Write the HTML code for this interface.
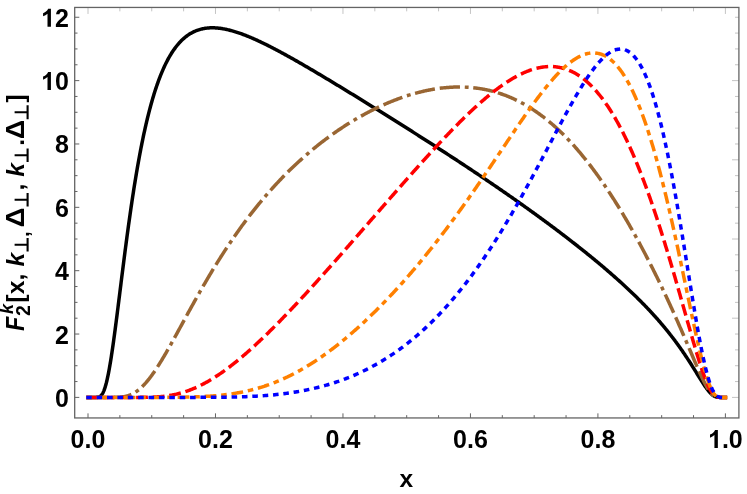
<!DOCTYPE html>
<html><head><meta charset="utf-8"><title>plot</title>
<style>
html,body{margin:0;padding:0;background:#fff;}
body{width:747px;height:494px;overflow:hidden;}
svg{display:block;will-change:transform;}
text{font-family:"Liberation Sans",sans-serif;font-weight:bold;fill:#000;}
</style></head><body>
<svg width="747" height="494" viewBox="0 0 747 494">
<rect x="0" y="0" width="747" height="494" fill="#fff"/>
<path d="M88.00,397.40 88.32,397.40 88.64,397.40 88.80,397.40 88.96,397.40 89.27,397.40 89.59,397.40 89.91,397.40 90.23,397.40 90.39,397.40 90.55,397.40 90.87,397.40 91.19,397.40 91.51,397.40 91.82,397.40 91.98,397.40 92.14,397.40 92.46,397.40 92.78,397.40 93.10,397.40 93.42,397.40 93.58,397.40 93.74,397.40 94.06,397.40 94.37,397.40 94.69,397.40 95.01,397.40 95.17,397.40 95.33,397.40 95.65,397.39 95.97,397.39 96.29,397.38 96.60,397.36 96.76,397.36 96.92,397.35 97.24,397.32 97.56,397.29 97.88,397.24 98.20,397.18 98.36,397.15 98.52,397.11 98.84,397.01 99.15,396.89 99.47,396.75 99.79,396.59 99.95,396.49 100.11,396.39 100.43,396.15 100.75,395.88 101.07,395.58 101.39,395.22 101.54,395.03 101.70,394.83 102.02,394.38 102.34,393.89 102.66,393.35 102.98,392.75 103.14,392.43 103.30,392.09 103.62,391.38 103.94,390.61 104.25,389.78 104.57,388.90 104.73,388.43 104.89,387.95 105.21,386.94 105.53,385.87 105.85,384.74 106.17,383.55 106.33,382.93 106.48,382.29 106.80,380.98 107.12,379.61 107.44,378.18 107.76,376.69 107.92,375.93 108.08,375.15 108.40,373.55 108.72,371.90 109.03,370.19 109.35,368.44 109.51,367.54 109.67,366.63 109.99,364.78 110.31,362.88 110.63,360.93 110.95,358.94 111.11,357.93 111.27,356.91 111.58,354.84 111.90,352.73 112.22,350.58 112.54,348.40 112.70,347.30 112.86,346.19 113.18,343.95 113.50,341.67 113.81,339.37 114.13,337.04 114.29,335.87 114.45,334.69 114.77,332.31 115.09,329.92 115.41,327.50 115.73,325.06 115.89,323.84 116.05,322.61 116.36,320.14 116.68,317.66 117.00,315.17 117.32,312.66 117.48,311.40 117.64,310.14 117.96,307.62 118.28,305.09 118.60,302.55 118.91,300.01 119.07,298.73 119.23,297.46 119.55,294.91 119.87,292.36 120.19,289.81 120.51,287.26 120.67,285.98 120.83,284.71 121.14,282.16 121.46,279.61 121.78,277.07 122.10,274.54 122.26,273.27 122.42,272.00 122.74,269.48 123.06,266.96 123.38,264.45 123.69,261.95 123.85,260.70 124.01,259.46 124.33,256.97 124.65,254.50 124.97,252.04 125.29,249.58 125.45,248.36 125.61,247.14 125.93,244.72 126.24,242.30 126.56,239.90 126.88,237.51 127.04,236.32 127.20,235.13 127.52,232.77 127.84,230.42 128.16,228.09 128.47,225.77 128.63,224.62 128.79,223.47 129.11,221.18 129.43,218.91 129.75,216.65 130.07,214.41 130.23,213.30 130.39,212.19 130.71,209.98 131.02,207.79 131.34,205.62 131.66,203.46 131.82,202.39 131.98,201.32 132.30,199.20 132.62,197.10 132.94,195.01 133.26,192.94 133.41,191.91 133.57,190.89 133.89,188.85 134.21,186.84 134.53,184.84 134.85,182.86 135.01,181.87 135.17,180.89 135.49,178.95 135.81,177.02 136.12,175.11 136.44,173.21 136.60,172.27 136.76,171.34 137.08,169.48 137.40,167.64 137.72,165.82 138.04,164.01 138.20,163.12 138.35,162.23 138.67,160.46 138.99,158.70 139.31,156.97 139.63,155.25 139.79,154.40 139.95,153.55 140.27,151.87 140.59,150.20 140.90,148.55 141.22,146.92 141.38,146.11 141.54,145.30 141.86,143.70 142.18,142.12 142.50,140.56 142.82,139.01 142.98,138.24 143.14,137.48 143.45,135.96 143.77,134.46 144.09,132.98 144.41,131.51 144.57,130.78 144.73,130.05 145.05,128.62 145.37,127.20 145.68,125.79 146.00,124.40 146.16,123.71 146.32,123.03 146.64,121.67 146.96,120.33 147.28,119.00 147.60,117.68 147.76,117.03 147.92,116.38 148.23,115.10 148.55,113.83 148.87,112.57 149.19,111.33 149.35,110.72 149.51,110.10 149.83,108.89 150.15,107.69 150.47,106.51 150.78,105.33 150.94,104.75 151.10,104.18 151.42,103.03 151.74,101.90 152.06,100.78 152.38,99.68 152.54,99.13 152.70,98.58 153.01,97.51 153.33,96.44 153.65,95.39 153.97,94.34 154.13,93.83 154.29,93.32 154.61,92.30 154.93,91.30 155.25,90.30 155.56,89.32 155.72,88.84 155.88,88.36 156.20,87.40 156.52,86.45 156.84,85.52 157.16,84.60 157.32,84.14 157.48,83.69 157.80,82.79 158.11,81.90 158.43,81.02 158.75,80.16 158.91,79.73 159.07,79.30 159.39,78.46 159.71,77.62 160.03,76.80 160.34,75.98 160.50,75.58 160.66,75.18 160.98,74.39 161.30,73.60 161.62,72.83 161.94,72.07 162.10,71.69 162.26,71.31 162.58,70.57 162.89,69.84 163.21,69.11 163.53,68.39 163.69,68.04 163.85,67.69 164.17,66.99 164.49,66.30 165.28,64.62 166.08,63.00 166.88,61.42 167.68,59.90 168.47,58.43 169.27,57.01 170.07,55.64 170.86,54.31 171.66,53.03 172.46,51.80 173.25,50.60 174.05,49.45 174.85,48.35 175.64,47.28 176.44,46.25 177.24,45.26 178.03,44.30 178.83,43.38 179.63,42.50 180.42,41.65 181.22,40.84 182.02,40.05 182.81,39.30 183.61,38.58 184.41,37.89 185.20,37.23 186.00,36.60 186.80,35.99 187.59,35.42 188.39,34.86 189.19,34.34 189.98,33.84 190.78,33.36 191.58,32.91 192.37,32.48 193.17,32.07 193.97,31.69 194.76,31.33 195.56,30.99 196.36,30.66 197.15,30.36 197.95,30.08 198.75,29.82 199.55,29.57 200.34,29.34 201.14,29.13 201.94,28.94 202.73,28.77 203.53,28.61 204.33,28.46 205.12,28.33 205.92,28.22 206.72,28.12 207.51,28.03 208.31,27.96 209.11,27.91 209.90,27.86 210.70,27.83 211.50,27.81 212.29,27.81 213.09,27.81 213.89,27.83 214.68,27.86 215.48,27.90 216.28,27.95 217.07,28.01 217.87,28.08 218.67,28.16 219.46,28.25 220.26,28.35 221.06,28.46 221.85,28.58 222.65,28.71 223.45,28.85 224.24,28.99 225.04,29.14 225.84,29.31 226.63,29.48 227.43,29.65 228.23,29.84 229.02,30.03 229.82,30.23 230.62,30.43 231.41,30.65 232.21,30.87 233.01,31.09 233.81,31.32 234.60,31.56 235.40,31.81 236.20,32.06 236.99,32.31 237.79,32.57 238.59,32.84 239.38,33.11 240.18,33.39 240.98,33.67 241.77,33.96 242.57,34.25 243.37,34.55 244.16,34.85 244.96,35.16 245.76,35.47 246.55,35.78 247.35,36.10 248.15,36.42 248.94,36.75 249.74,37.08 250.54,37.42 251.33,37.76 252.13,38.10 252.93,38.44 253.72,38.79 254.52,39.14 255.32,39.50 256.11,39.86 256.91,40.22 257.71,40.59 258.50,40.96 259.30,41.33 260.10,41.70 260.89,42.08 261.69,42.46 262.49,42.84 263.28,43.23 264.08,43.61 264.88,44.00 265.68,44.39 266.47,44.79 267.27,45.19 268.07,45.59 268.86,45.99 269.66,46.39 270.46,46.80 271.25,47.21 272.05,47.61 272.85,48.03 273.64,48.44 274.44,48.86 275.24,49.27 276.03,49.69 276.83,50.11 277.63,50.54 278.42,50.96 279.22,51.39 280.02,51.81 280.81,52.24 281.61,52.67 282.41,53.11 283.20,53.54 284.00,53.98 284.80,54.41 285.59,54.85 286.39,55.29 287.19,55.73 287.98,56.17 288.78,56.61 289.58,57.06 290.37,57.50 291.17,57.95 291.97,58.40 292.76,58.84 293.56,59.29 294.36,59.74 295.15,60.20 295.95,60.65 296.75,61.10 297.55,61.56 298.34,62.01 299.14,62.47 299.94,62.93 300.73,63.38 301.53,63.84 302.33,64.30 303.12,64.76 303.92,65.23 304.72,65.69 305.51,66.15 306.31,66.61 307.11,67.08 307.90,67.54 308.70,68.01 309.50,68.48 310.29,68.94 311.09,69.41 311.89,69.88 312.68,70.35 313.48,70.82 314.28,71.29 315.07,71.76 315.87,72.23 316.67,72.70 317.46,73.18 318.26,73.65 319.06,74.12 319.85,74.60 320.65,75.07 321.45,75.55 322.24,76.02 323.04,76.50 323.84,76.97 324.63,77.45 325.43,77.93 326.23,78.41 327.02,78.88 327.82,79.36 328.62,79.84 329.42,80.32 330.21,80.80 331.01,81.28 331.81,81.76 332.60,82.24 333.40,82.72 334.20,83.20 334.99,83.69 335.79,84.17 336.59,84.65 337.38,85.13 338.18,85.62 338.98,86.10 339.77,86.58 340.57,87.07 341.37,87.55 342.16,88.04 342.96,88.52 343.76,89.01 344.55,89.49 345.35,89.98 346.15,90.47 346.94,90.95 347.74,91.44 348.54,91.93 349.33,92.41 350.13,92.90 350.93,93.39 351.72,93.88 352.52,94.36 353.32,94.85 354.11,95.34 354.91,95.83 355.71,96.32 356.50,96.81 357.30,97.30 358.10,97.79 358.89,98.28 359.69,98.77 360.49,99.26 361.29,99.75 362.08,100.24 362.88,100.73 363.68,101.22 364.47,101.72 365.27,102.21 366.07,102.70 366.86,103.19 367.66,103.69 368.46,104.18 369.25,104.67 370.05,105.16 370.85,105.66 371.64,106.15 372.44,106.64 373.24,107.14 374.03,107.63 374.83,108.13 375.63,108.62 376.42,109.12 377.22,109.61 378.02,110.11 378.81,110.60 379.61,111.10 380.41,111.59 381.20,112.09 382.00,112.59 382.80,113.08 383.59,113.58 384.39,114.08 385.19,114.57 385.98,115.07 386.78,115.57 387.58,116.06 388.37,116.56 389.17,117.06 389.97,117.56 390.76,118.06 391.56,118.56 392.36,119.06 393.16,119.55 393.95,120.05 394.75,120.55 395.55,121.05 396.34,121.55 397.14,122.05 397.94,122.55 398.73,123.05 399.53,123.56 400.33,124.06 401.12,124.56 401.92,125.06 402.72,125.56 403.51,126.06 404.31,126.57 405.11,127.07 405.90,127.57 406.70,128.07 407.50,128.58 408.29,129.08 409.09,129.58 409.89,130.09 410.68,130.59 411.48,131.10 412.28,131.60 413.07,132.11 413.87,132.61 414.67,133.12 415.46,133.62 416.26,134.13 417.06,134.63 417.85,135.14 418.65,135.65 419.45,136.16 420.24,136.66 421.04,137.17 421.84,137.68 422.63,138.19 423.43,138.69 424.23,139.20 425.03,139.71 425.82,140.22 426.62,140.73 427.42,141.24 428.21,141.75 429.01,142.26 429.81,142.77 430.60,143.28 431.40,143.79 432.20,144.31 432.99,144.82 433.79,145.33 434.59,145.84 435.38,146.36 436.18,146.87 436.98,147.38 437.77,147.90 438.57,148.41 439.37,148.92 440.16,149.44 440.96,149.95 441.76,150.47 442.55,150.99 443.35,151.50 444.15,152.02 444.94,152.54 445.74,153.05 446.54,153.57 447.33,154.09 448.13,154.61 448.93,155.13 449.72,155.64 450.52,156.16 451.32,156.68 452.11,157.20 452.91,157.72 453.71,158.24 454.51,158.77 455.30,159.29 456.10,159.81 456.90,160.33 457.69,160.85 458.49,161.38 459.29,161.90 460.08,162.43 460.88,162.95 461.68,163.47 462.47,164.00 463.27,164.53 464.07,165.05 464.86,165.58 465.66,166.10 466.46,166.63 467.25,167.16 468.05,167.69 468.85,168.22 469.64,168.75 470.44,169.27 471.24,169.80 472.03,170.33 472.83,170.87 473.63,171.40 474.42,171.93 475.22,172.46 476.02,172.99 476.81,173.53 477.61,174.06 478.41,174.59 479.20,175.13 480.00,175.66 480.80,176.20 481.59,176.73 482.39,177.27 483.19,177.81 483.98,178.35 484.78,178.88 485.58,179.42 486.38,179.96 487.17,180.50 487.97,181.04 488.77,181.58 489.56,182.12 490.36,182.66 491.16,183.20 491.95,183.75 492.75,184.29 493.55,184.83 494.34,185.38 495.14,185.92 495.94,186.47 496.73,187.01 497.53,187.56 498.33,188.11 499.12,188.65 499.92,189.20 500.72,189.75 501.51,190.30 502.31,190.85 503.11,191.40 503.90,191.95 504.70,192.50 505.50,193.05 506.29,193.61 507.09,194.16 507.89,194.71 508.68,195.27 509.48,195.82 510.28,196.38 511.07,196.93 511.87,197.49 512.67,198.05 513.46,198.61 514.26,199.16 515.06,199.72 515.85,200.28 516.65,200.84 517.45,201.41 518.25,201.97 519.04,202.53 519.84,203.09 520.64,203.66 521.43,204.22 522.23,204.79 523.03,205.35 523.82,205.92 524.62,206.49 525.42,207.06 526.21,207.62 527.01,208.19 527.81,208.76 528.60,209.34 529.40,209.91 530.20,210.48 530.99,211.05 531.79,211.63 532.59,212.20 533.38,212.78 534.18,213.35 534.98,213.93 535.77,214.51 536.57,215.08 537.37,215.66 538.16,216.24 538.96,216.82 539.76,217.41 540.55,217.99 541.35,218.57 542.15,219.16 542.94,219.74 543.74,220.33 544.54,220.91 545.33,221.50 546.13,222.09 546.93,222.68 547.72,223.27 548.52,223.86 549.32,224.45 550.12,225.04 550.91,225.63 551.71,226.23 552.51,226.82 553.30,227.42 554.10,228.01 554.90,228.61 555.69,229.21 556.49,229.81 557.29,230.41 558.08,231.01 558.88,231.61 559.68,232.22 560.47,232.82 561.27,233.43 562.07,234.03 562.86,234.64 563.66,235.25 564.46,235.86 565.25,236.47 566.05,237.08 566.85,237.69 567.64,238.31 568.44,238.92 569.24,239.54 570.03,240.15 570.83,240.77 571.63,241.39 572.42,242.01 573.22,242.63 574.02,243.25 574.81,243.88 575.61,244.50 576.41,245.13 577.20,245.75 578.00,246.38 578.80,247.01 579.59,247.64 580.39,248.28 581.19,248.91 581.99,249.54 582.78,250.18 583.58,250.82 584.38,251.45 585.17,252.09 585.97,252.73 586.77,253.38 587.56,254.02 588.36,254.67 589.16,255.31 589.95,255.96 590.75,256.61 591.55,257.26 592.34,257.91 593.14,258.57 593.94,259.22 594.73,259.88 595.53,260.54 596.33,261.20 597.12,261.86 597.92,262.52 598.72,263.19 599.51,263.85 600.31,264.52 601.11,265.19 601.90,265.86 602.70,266.54 603.50,267.21 604.29,267.89 605.09,268.57 605.89,269.25 606.68,269.93 607.48,270.62 608.28,271.30 609.07,271.99 609.87,272.68 610.67,273.37 611.46,274.07 612.26,274.77 613.06,275.46 613.86,276.16 614.65,276.87 615.45,277.57 616.25,278.28 617.04,278.99 617.84,279.70 618.64,280.42 619.43,281.13 620.23,281.85 621.03,282.58 621.82,283.30 622.62,284.03 623.42,284.76 624.21,285.49 625.01,286.22 625.81,286.96 626.60,287.70 627.40,288.44 628.20,289.19 628.99,289.94 629.79,290.69 630.59,291.45 631.38,292.21 632.18,292.97 632.98,293.73 633.77,294.50 634.57,295.27 635.37,296.05 636.16,296.82 636.96,297.60 637.76,298.39 638.55,299.18 639.35,299.97 640.15,300.77 640.94,301.57 641.74,302.37 642.54,303.18 643.33,303.99 644.13,304.81 644.93,305.63 645.73,306.46 646.52,307.29 647.32,308.12 648.12,308.96 648.91,309.80 649.71,310.65 650.51,311.51 651.30,312.36 652.10,313.23 652.90,314.10 653.69,314.97 654.49,315.85 655.29,316.74 656.08,317.63 656.88,318.52 657.68,319.43 658.47,320.33 659.27,321.25 660.07,322.17 660.86,323.10 661.66,324.03 661.98,324.41 662.30,324.78 662.46,324.97 662.62,325.16 662.93,325.54 663.25,325.92 663.57,326.30 663.89,326.68 664.05,326.87 664.21,327.06 664.53,327.45 664.85,327.83 665.17,328.22 665.48,328.61 665.64,328.80 665.80,329.00 666.12,329.39 666.44,329.78 666.76,330.17 667.08,330.56 667.24,330.76 667.40,330.96 667.72,331.36 668.03,331.75 668.35,332.15 668.67,332.55 668.83,332.75 668.99,332.95 669.31,333.35 669.63,333.76 669.95,334.16 670.26,334.57 670.42,334.77 670.58,334.98 670.90,335.38 671.22,335.79 671.54,336.21 671.86,336.62 672.02,336.83 672.18,337.03 672.50,337.45 672.81,337.86 673.13,338.28 673.45,338.70 673.61,338.91 673.77,339.12 674.09,339.55 674.41,339.97 674.73,340.39 675.05,340.82 675.20,341.04 675.36,341.25 675.68,341.68 676.00,342.11 676.32,342.54 676.64,342.98 676.80,343.19 676.96,343.41 677.28,343.85 677.60,344.29 677.91,344.73 678.23,345.17 678.39,345.39 678.55,345.61 678.87,346.05 679.19,346.50 679.51,346.95 679.83,347.40 679.99,347.62 680.14,347.85 680.46,348.30 680.78,348.75 681.10,349.21 681.42,349.66 681.58,349.89 681.74,350.12 682.06,350.58 682.38,351.04 682.69,351.50 683.01,351.97 683.17,352.20 683.33,352.43 683.65,352.90 683.97,353.37 684.29,353.84 684.61,354.31 684.77,354.55 684.93,354.78 685.24,355.26 685.56,355.73 685.88,356.21 686.20,356.69 686.36,356.93 686.52,357.17 686.84,357.66 687.16,358.14 687.47,358.62 687.79,359.11 687.95,359.35 688.11,359.60 688.43,360.09 688.75,360.58 689.07,361.07 689.39,361.56 689.55,361.81 689.71,362.06 690.02,362.56 690.34,363.05 690.66,363.55 690.98,364.05 691.14,364.30 691.30,364.55 691.62,365.06 691.94,365.56 692.26,366.06 692.57,366.57 692.73,366.82 692.89,367.08 693.21,367.58 693.53,368.09 693.53,368.09 693.85,368.60 694.17,369.11 694.33,369.37 694.49,369.62 694.80,370.13 695.12,370.64 695.44,371.16 695.76,371.67 695.92,371.92 696.08,372.18 696.40,372.69 696.72,373.21 696.72,373.21 697.04,373.72 697.35,374.24 697.51,374.49 697.67,374.75 697.99,375.26 698.31,375.77 698.63,376.29 698.95,376.80 699.11,377.05 699.27,377.31 699.59,377.82 699.90,378.33 700.22,378.84 700.54,379.34 700.70,379.60 700.86,379.85 701.18,380.35 701.50,380.85 701.82,381.35 702.13,381.85 702.29,382.10 702.45,382.34 702.77,382.83 703.09,383.32 703.41,383.81 703.73,384.29 703.89,384.53 704.05,384.77 704.37,385.24 704.68,385.72 705.00,386.18 705.32,386.64 705.48,386.87 705.64,387.10 705.96,387.55 706.28,387.99 706.60,388.43 706.92,388.86 707.07,389.08 707.23,389.29 707.55,389.71 707.87,390.12 708.19,390.52 708.51,390.91 708.67,391.11 708.83,391.30 709.15,391.67 709.46,392.04 709.78,392.40 710.10,392.74 710.26,392.91 710.42,393.08 710.74,393.40 711.06,393.72 711.38,394.02 711.70,394.31 711.86,394.45 712.01,394.58 712.33,394.85 712.65,395.10 712.97,395.33 713.29,395.55 713.45,395.66 713.61,395.76 713.93,395.96 714.25,396.14 714.56,396.31 714.88,396.46 715.04,396.53 715.20,396.60 715.52,396.72 715.84,396.84 716.16,396.94 716.48,397.02 716.64,397.06 716.80,397.10 717.11,397.16 717.43,397.22 717.75,397.26 718.07,397.30 718.23,397.31 718.39,397.33 718.71,397.35 719.03,397.37 719.34,397.38 719.66,397.39 719.82,397.39 719.98,397.39 720.30,397.40 720.62,397.40 720.94,397.40 721.26,397.40 721.42,397.40 721.58,397.40 721.89,397.40 722.21,397.40 722.53,397.40 722.85,397.40 723.01,397.40 723.17,397.40 723.49,397.40 723.81,397.40 724.13,397.40 724.44,397.40 724.60,397.40 724.76,397.40 725.08,397.40 725.40,397.40" fill="none" stroke="#000000" stroke-width="3.5" stroke-linecap="square" stroke-linejoin="round"/>
<path d="M88.00,397.40 88.32,397.40 88.64,397.40 88.80,397.40 88.96,397.40 89.27,397.40 89.59,397.40 89.91,397.40 90.23,397.40 90.39,397.40 90.55,397.40 90.87,397.40 91.19,397.40 91.51,397.40 91.82,397.40 91.98,397.40 92.14,397.40 92.46,397.40 92.78,397.40 93.10,397.40 93.42,397.40 93.58,397.40 93.74,397.40 94.06,397.40 94.37,397.40 94.69,397.40 95.01,397.40 95.17,397.40 95.33,397.40 95.65,397.40 95.97,397.40 96.29,397.40 96.60,397.40 96.76,397.40 96.92,397.40 97.24,397.40 97.56,397.40 97.88,397.40 98.20,397.40 98.36,397.40 98.52,397.40 98.84,397.40 99.15,397.40 99.47,397.40 99.79,397.40 99.95,397.40 100.11,397.40 100.43,397.40 100.75,397.40 101.07,397.40 101.39,397.40 101.54,397.40 101.70,397.40 102.02,397.40 102.34,397.40 102.66,397.40 102.98,397.40 103.14,397.40 103.30,397.40 103.62,397.40 103.94,397.40 104.25,397.40 104.57,397.40 104.73,397.40 104.89,397.40 105.21,397.40 105.53,397.40 105.85,397.40 106.17,397.40 106.33,397.40 106.48,397.40 106.80,397.40 107.12,397.40 107.44,397.40 107.76,397.40 107.92,397.40 108.08,397.40 108.40,397.40 108.72,397.40 109.03,397.40 109.35,397.40 109.51,397.40 109.67,397.40 109.99,397.40 110.31,397.40 110.63,397.40 110.95,397.40 111.11,397.39 111.27,397.39 111.58,397.39 111.90,397.39 112.22,397.39 112.54,397.39 112.70,397.39 112.86,397.39 113.18,397.38 113.50,397.38 113.81,397.38 114.13,397.37 114.29,397.37 114.45,397.37 114.77,397.36 115.09,397.36 115.41,397.35 115.73,397.34 115.89,397.34 116.05,397.34 116.36,397.33 116.68,397.32 117.00,397.31 117.32,397.30 117.48,397.29 117.64,397.28 117.96,397.27 118.28,397.25 118.60,397.24 118.91,397.22 119.07,397.21 119.23,397.20 119.55,397.18 119.87,397.15 120.19,397.13 120.51,397.10 120.67,397.09 120.83,397.07 121.14,397.04 121.46,397.01 121.78,396.97 122.10,396.94 122.26,396.92 122.42,396.90 122.74,396.85 123.06,396.81 123.38,396.76 123.69,396.71 123.85,396.68 124.01,396.65 124.33,396.60 124.65,396.54 124.97,396.47 125.29,396.41 125.45,396.37 125.61,396.34 125.93,396.26 126.24,396.19 126.56,396.11 126.88,396.02 127.04,395.98 127.20,395.94 127.52,395.84 127.84,395.75 128.16,395.65 128.47,395.55 128.63,395.49 128.79,395.44 129.11,395.33 129.43,395.21 129.75,395.09 130.07,394.97 130.23,394.90 130.39,394.84 130.71,394.70 131.02,394.57 131.34,394.42 131.66,394.28 131.82,394.20 131.98,394.12 132.30,393.97 132.62,393.81 132.94,393.64 133.26,393.47 133.41,393.38 133.57,393.29 133.89,393.11 134.21,392.93 134.53,392.74 134.85,392.54 135.01,392.44 135.17,392.34 135.49,392.14 135.81,391.93 136.12,391.71 136.44,391.49 136.60,391.38 136.76,391.27 137.08,391.04 137.40,390.80 137.72,390.56 138.04,390.32 138.20,390.20 138.35,390.07 138.67,389.81 138.99,389.55 139.31,389.29 139.63,389.02 139.79,388.88 139.95,388.75 140.27,388.47 140.59,388.18 140.90,387.89 141.22,387.60 141.38,387.45 141.54,387.30 141.86,386.99 142.18,386.69 142.50,386.37 142.82,386.05 142.98,385.89 143.14,385.73 143.45,385.40 143.77,385.07 144.09,384.73 144.41,384.39 144.57,384.22 144.73,384.05 145.05,383.69 145.37,383.34 145.68,382.98 146.00,382.62 146.16,382.43 146.32,382.25 146.64,381.87 146.96,381.50 147.28,381.12 147.60,380.73 147.76,380.54 147.92,380.34 148.23,379.95 148.55,379.55 148.87,379.15 149.19,378.74 149.35,378.54 149.51,378.33 149.83,377.92 150.15,377.50 150.47,377.08 150.78,376.65 150.94,376.44 151.10,376.22 151.42,375.79 151.74,375.35 152.06,374.91 152.38,374.47 152.54,374.25 152.70,374.02 153.01,373.57 153.33,373.12 153.65,372.66 153.97,372.20 154.13,371.97 154.29,371.74 154.61,371.27 154.93,370.80 155.25,370.33 155.56,369.86 155.72,369.62 155.88,369.38 156.20,368.90 156.52,368.41 156.84,367.92 157.16,367.43 157.32,367.19 157.48,366.94 157.80,366.45 158.11,365.95 158.43,365.45 158.75,364.94 158.91,364.69 159.07,364.44 159.39,363.93 159.71,363.42 160.03,362.90 160.34,362.39 160.50,362.13 160.66,361.87 160.98,361.35 161.30,360.83 161.62,360.31 161.94,359.78 162.10,359.52 162.26,359.25 162.58,358.72 162.89,358.19 163.21,357.65 163.53,357.12 163.69,356.85 163.85,356.58 164.17,356.04 164.49,355.50 165.28,354.14 166.08,352.77 166.88,351.39 167.68,350.00 168.47,348.60 169.27,347.20 170.07,345.79 170.86,344.37 171.66,342.94 172.46,341.51 173.25,340.08 174.05,338.64 174.85,337.20 175.64,335.75 176.44,334.30 177.24,332.85 178.03,331.40 178.83,329.94 179.63,328.49 180.42,327.03 181.22,325.57 182.02,324.11 182.81,322.65 183.61,321.19 184.41,319.73 185.20,318.27 186.00,316.82 186.80,315.36 187.59,313.91 188.39,312.46 189.19,311.01 189.98,309.56 190.78,308.12 191.58,306.68 192.37,305.24 193.17,303.80 193.97,302.37 194.76,300.94 195.56,299.52 196.36,298.10 197.15,296.68 197.95,295.27 198.75,293.86 199.55,292.46 200.34,291.06 201.14,289.67 201.94,288.28 202.73,286.89 203.53,285.51 204.33,284.14 205.12,282.77 205.92,281.40 206.72,280.04 207.51,278.69 208.31,277.34 209.11,276.00 209.90,274.66 210.70,273.33 211.50,272.01 212.29,270.69 213.09,269.37 213.89,268.07 214.68,266.76 215.48,265.47 216.28,264.18 217.07,262.89 217.87,261.62 218.67,260.34 219.46,259.08 220.26,257.82 221.06,256.56 221.85,255.32 222.65,254.07 223.45,252.84 224.24,251.61 225.04,250.39 225.84,249.17 226.63,247.96 227.43,246.75 228.23,245.55 229.02,244.36 229.82,243.17 230.62,241.99 231.41,240.82 232.21,239.65 233.01,238.49 233.81,237.33 234.60,236.18 235.40,235.04 236.20,233.90 236.99,232.77 237.79,231.64 238.59,230.52 239.38,229.41 240.18,228.30 240.98,227.20 241.77,226.10 242.57,225.01 243.37,223.93 244.16,222.85 244.96,221.78 245.76,220.71 246.55,219.65 247.35,218.60 248.15,217.55 248.94,216.51 249.74,215.47 250.54,214.44 251.33,213.41 252.13,212.39 252.93,211.37 253.72,210.37 254.52,209.36 255.32,208.36 256.11,207.37 256.91,206.38 257.71,205.40 258.50,204.43 259.30,203.46 260.10,202.49 260.89,201.53 261.69,200.58 262.49,199.63 263.28,198.68 264.08,197.75 264.88,196.81 265.68,195.88 266.47,194.96 267.27,194.04 268.07,193.13 268.86,192.22 269.66,191.32 270.46,190.43 271.25,189.53 272.05,188.65 272.85,187.76 273.64,186.89 274.44,186.02 275.24,185.15 276.03,184.29 276.83,183.43 277.63,182.58 278.42,181.73 279.22,180.89 280.02,180.05 280.81,179.21 281.61,178.39 282.41,177.56 283.20,176.74 284.00,175.93 284.80,175.12 285.59,174.31 286.39,173.51 287.19,172.72 287.98,171.92 288.78,171.14 289.58,170.35 290.37,169.58 291.17,168.80 291.97,168.03 292.76,167.27 293.56,166.51 294.36,165.75 295.15,165.00 295.95,164.25 296.75,163.51 297.55,162.77 298.34,162.03 299.14,161.30 299.94,160.58 300.73,159.86 301.53,159.14 302.33,158.42 303.12,157.71 303.92,157.01 304.72,156.31 305.51,155.61 306.31,154.92 307.11,154.23 307.90,153.54 308.70,152.86 309.50,152.18 310.29,151.51 311.09,150.84 311.89,150.18 312.68,149.51 313.48,148.86 314.28,148.20 315.07,147.55 315.87,146.91 316.67,146.26 317.46,145.63 318.26,144.99 319.06,144.36 319.85,143.73 320.65,143.11 321.45,142.49 322.24,141.87 323.04,141.26 323.84,140.65 324.63,140.05 325.43,139.45 326.23,138.85 327.02,138.26 327.82,137.67 328.62,137.08 329.42,136.50 330.21,135.92 331.01,135.34 331.81,134.77 332.60,134.20 333.40,133.63 334.20,133.07 334.99,132.51 335.79,131.96 336.59,131.41 337.38,130.86 338.18,130.32 338.98,129.78 339.77,129.24 340.57,128.70 341.37,128.17 342.16,127.65 342.96,127.12 343.76,126.60 344.55,126.08 345.35,125.57 346.15,125.06 346.94,124.55 347.74,124.05 348.54,123.55 349.33,123.05 350.13,122.56 350.93,122.07 351.72,121.58 352.52,121.10 353.32,120.62 354.11,120.14 354.91,119.67 355.71,119.20 356.50,118.73 357.30,118.27 358.10,117.81 358.89,117.35 359.69,116.90 360.49,116.45 361.29,116.00 362.08,115.56 362.88,115.12 363.68,114.68 364.47,114.24 365.27,113.81 366.07,113.39 366.86,112.96 367.66,112.54 368.46,112.12 369.25,111.71 370.05,111.30 370.85,110.89 371.64,110.48 372.44,110.08 373.24,109.68 374.03,109.29 374.83,108.90 375.63,108.51 376.42,108.12 377.22,107.74 378.02,107.36 378.81,106.98 379.61,106.61 380.41,106.24 381.20,105.88 382.00,105.51 382.80,105.15 383.59,104.80 384.39,104.44 385.19,104.09 385.98,103.75 386.78,103.41 387.58,103.07 388.37,102.73 389.17,102.40 389.97,102.07 390.76,101.74 391.56,101.41 392.36,101.09 393.16,100.78 393.95,100.46 394.75,100.15 395.55,99.85 396.34,99.54 397.14,99.24 397.94,98.95 398.73,98.65 399.53,98.36 400.33,98.08 401.12,97.79 401.92,97.51 402.72,97.24 403.51,96.96 404.31,96.69 405.11,96.43 405.90,96.16 406.70,95.90 407.50,95.65 408.29,95.39 409.09,95.15 409.89,94.90 410.68,94.66 411.48,94.42 412.28,94.18 413.07,93.95 413.87,93.72 414.67,93.50 415.46,93.28 416.26,93.06 417.06,92.85 417.85,92.64 418.65,92.43 419.45,92.23 420.24,92.03 421.04,91.83 421.84,91.64 422.63,91.45 423.43,91.26 424.23,91.08 425.03,90.91 425.82,90.73 426.62,90.56 427.42,90.40 428.21,90.23 429.01,90.07 429.81,89.92 430.60,89.77 431.40,89.62 432.20,89.48 432.99,89.34 433.79,89.20 434.59,89.07 435.38,88.94 436.18,88.82 436.98,88.70 437.77,88.58 438.57,88.47 439.37,88.36 440.16,88.26 440.96,88.16 441.76,88.06 442.55,87.97 443.35,87.88 444.15,87.80 444.94,87.72 445.74,87.64 446.54,87.57 447.33,87.51 448.13,87.44 448.93,87.39 449.72,87.33 450.52,87.28 451.32,87.24 452.11,87.19 452.91,87.16 453.71,87.12 454.51,87.10 455.30,87.07 456.10,87.05 456.90,87.04 457.69,87.03 458.49,87.02 459.29,87.02 460.08,87.02 460.88,87.03 461.68,87.04 462.47,87.06 463.27,87.08 464.07,87.10 464.86,87.13 465.66,87.17 466.46,87.21 467.25,87.25 468.05,87.30 468.85,87.36 469.64,87.42 470.44,87.48 471.24,87.55 472.03,87.62 472.83,87.70 473.63,87.78 474.42,87.87 475.22,87.97 476.02,88.06 476.81,88.17 477.61,88.28 478.41,88.39 479.20,88.51 480.00,88.63 480.80,88.76 481.59,88.89 482.39,89.03 483.19,89.18 483.98,89.33 484.78,89.48 485.58,89.64 486.38,89.81 487.17,89.98 487.97,90.15 488.77,90.33 489.56,90.52 490.36,90.71 491.16,90.91 491.95,91.11 492.75,91.32 493.55,91.54 494.34,91.76 495.14,91.98 495.94,92.21 496.73,92.45 497.53,92.69 498.33,92.94 499.12,93.19 499.92,93.45 500.72,93.72 501.51,93.99 502.31,94.27 503.11,94.55 503.90,94.84 504.70,95.13 505.50,95.43 506.29,95.74 507.09,96.05 507.89,96.37 508.68,96.70 509.48,97.03 510.28,97.36 511.07,97.71 511.87,98.05 512.67,98.41 513.46,98.77 514.26,99.14 515.06,99.51 515.85,99.89 516.65,100.28 517.45,100.67 518.25,101.07 519.04,101.47 519.84,101.88 520.64,102.30 521.43,102.72 522.23,103.15 523.03,103.59 523.82,104.04 524.62,104.48 525.42,104.94 526.21,105.40 527.01,105.87 527.81,106.35 528.60,106.83 529.40,107.32 530.20,107.82 530.99,108.32 531.79,108.83 532.59,109.34 533.38,109.87 534.18,110.40 534.98,110.93 535.77,111.48 536.57,112.03 537.37,112.58 538.16,113.15 538.96,113.72 539.76,114.29 540.55,114.88 541.35,115.47 542.15,116.07 542.94,116.67 543.74,117.28 544.54,117.90 545.33,118.53 546.13,119.16 546.93,119.80 547.72,120.45 548.52,121.10 549.32,121.76 550.12,122.43 550.91,123.10 551.71,123.79 552.51,124.48 553.30,125.17 554.10,125.88 554.90,126.59 555.69,127.30 556.49,128.03 557.29,128.76 558.08,129.50 558.88,130.25 559.68,131.00 560.47,131.76 561.27,132.53 562.07,133.31 562.86,134.09 563.66,134.88 564.46,135.68 565.25,136.48 566.05,137.30 566.85,138.12 567.64,138.94 568.44,139.78 569.24,140.62 570.03,141.47 570.83,142.32 571.63,143.19 572.42,144.06 573.22,144.94 574.02,145.82 574.81,146.71 575.61,147.61 576.41,148.52 577.20,149.44 578.00,150.36 578.80,151.29 579.59,152.23 580.39,153.17 581.19,154.12 581.99,155.08 582.78,156.05 583.58,157.02 584.38,158.00 585.17,158.99 585.97,159.99 586.77,160.99 587.56,162.00 588.36,163.02 589.16,164.05 589.95,165.08 590.75,166.12 591.55,167.17 592.34,168.22 593.14,169.28 593.94,170.35 594.73,171.43 595.53,172.51 596.33,173.60 597.12,174.70 597.92,175.81 598.72,176.92 599.51,178.04 600.31,179.17 601.11,180.30 601.90,181.44 602.70,182.59 603.50,183.75 604.29,184.91 605.09,186.08 605.89,187.26 606.68,188.45 607.48,189.64 608.28,190.84 609.07,192.04 609.87,193.26 610.67,194.48 611.46,195.71 612.26,196.94 613.06,198.18 613.86,199.43 614.65,200.69 615.45,201.95 616.25,203.22 617.04,204.50 617.84,205.78 618.64,207.07 619.43,208.37 620.23,209.68 621.03,210.99 621.82,212.31 622.62,213.63 623.42,214.97 624.21,216.31 625.01,217.65 625.81,219.01 626.60,220.37 627.40,221.73 628.20,223.11 628.99,224.49 629.79,225.88 630.59,227.27 631.38,228.67 632.18,230.08 632.98,231.50 633.77,232.92 634.57,234.35 635.37,235.78 636.16,237.22 636.96,238.67 637.76,240.13 638.55,241.59 639.35,243.06 640.15,244.54 640.94,246.02 641.74,247.51 642.54,249.00 643.33,250.51 644.13,252.02 644.93,253.53 645.73,255.06 646.52,256.58 647.32,258.12 648.12,259.66 648.91,261.21 649.71,262.77 650.51,264.33 651.30,265.90 652.10,267.48 652.90,269.07 653.69,270.66 654.49,272.25 655.29,273.86 656.08,275.47 656.88,277.09 657.68,278.71 658.47,280.34 659.27,281.98 660.07,283.63 660.86,285.28 661.66,286.94 661.98,287.61 662.30,288.27 662.46,288.61 662.62,288.94 662.93,289.61 663.25,290.28 663.57,290.95 663.89,291.62 664.05,291.96 664.21,292.30 664.53,292.97 664.85,293.65 665.17,294.32 665.48,295.00 665.64,295.34 665.80,295.68 666.12,296.36 666.44,297.04 666.76,297.72 667.08,298.41 667.24,298.75 667.40,299.09 667.72,299.78 668.03,300.46 668.35,301.15 668.67,301.84 668.83,302.19 668.99,302.53 669.31,303.22 669.63,303.92 669.95,304.61 670.26,305.30 670.42,305.65 670.58,306.00 670.90,306.70 671.22,307.39 671.54,308.09 671.86,308.79 672.02,309.14 672.18,309.50 672.50,310.20 672.81,310.90 673.13,311.61 673.45,312.31 673.61,312.66 673.77,313.02 674.09,313.73 674.41,314.44 674.73,315.15 675.05,315.86 675.20,316.21 675.36,316.57 675.68,317.28 676.00,318.00 676.32,318.71 676.64,319.43 676.80,319.79 676.96,320.15 677.28,320.86 677.60,321.58 677.91,322.30 678.23,323.03 678.39,323.39 678.55,323.75 678.87,324.47 679.19,325.20 679.51,325.92 679.83,326.65 679.99,327.01 680.14,327.38 680.46,328.11 680.78,328.83 681.10,329.56 681.42,330.30 681.58,330.66 681.74,331.03 682.06,331.76 682.38,332.50 682.69,333.23 683.01,333.97 683.17,334.33 683.33,334.70 683.65,335.44 683.97,336.18 684.29,336.92 684.61,337.65 684.77,338.02 684.93,338.39 685.24,339.14 685.56,339.88 685.88,340.62 686.20,341.36 686.36,341.73 686.52,342.10 686.84,342.85 687.16,343.59 687.47,344.34 687.79,345.08 687.95,345.45 688.11,345.83 688.43,346.57 688.75,347.32 689.07,348.06 689.39,348.81 689.55,349.18 689.71,349.56 690.02,350.30 690.34,351.05 690.66,351.80 690.98,352.54 691.14,352.92 691.30,353.29 691.62,354.04 691.94,354.78 692.26,355.53 692.57,356.27 692.73,356.64 692.89,357.02 693.21,357.76 693.53,358.50 693.53,358.50 693.85,359.25 694.17,359.99 694.33,360.36 694.49,360.73 694.80,361.47 695.12,362.20 695.44,362.94 695.76,363.68 695.92,364.04 696.08,364.41 696.40,365.14 696.72,365.87 696.72,365.87 697.04,366.60 697.35,367.33 697.51,367.69 697.67,368.05 697.99,368.77 698.31,369.49 698.63,370.21 698.95,370.92 699.11,371.28 699.27,371.63 699.59,372.34 699.90,373.04 700.22,373.74 700.54,374.43 700.70,374.78 700.86,375.13 701.18,375.81 701.50,376.49 701.82,377.17 702.13,377.84 702.29,378.18 702.45,378.51 702.77,379.17 703.09,379.82 703.41,380.47 703.73,381.11 703.89,381.43 704.05,381.75 704.37,382.37 704.68,382.99 705.00,383.60 705.32,384.21 705.48,384.51 705.64,384.80 705.96,385.39 706.28,385.96 706.60,386.53 706.92,387.08 707.07,387.35 707.23,387.63 707.55,388.16 707.87,388.68 708.19,389.19 708.51,389.68 708.67,389.93 708.83,390.17 709.15,390.64 709.46,391.09 709.78,391.53 710.10,391.96 710.26,392.17 710.42,392.37 710.74,392.77 711.06,393.15 711.38,393.51 711.70,393.86 711.86,394.03 712.01,394.19 712.33,394.51 712.65,394.80 712.97,395.08 713.29,395.34 713.45,395.47 713.61,395.59 713.93,395.81 714.25,396.02 714.56,396.21 714.88,396.38 715.04,396.46 715.20,396.54 715.52,396.68 715.84,396.81 716.16,396.91 716.48,397.01 716.64,397.05 716.80,397.09 717.11,397.16 717.43,397.22 717.75,397.26 718.07,397.30 718.23,397.32 718.39,397.33 718.71,397.35 719.03,397.37 719.34,397.38 719.66,397.39 719.82,397.39 719.98,397.39 720.30,397.40 720.62,397.40 720.94,397.40 721.26,397.40 721.42,397.40 721.58,397.40 721.89,397.40 722.21,397.40 722.53,397.40 722.85,397.40 723.01,397.40 723.17,397.40 723.49,397.40 723.81,397.40 724.13,397.40 724.44,397.40 724.60,397.40 724.76,397.40 725.08,397.40 725.40,397.40" fill="none" stroke="#996633" stroke-width="3.5" stroke-linecap="square" stroke-linejoin="round" stroke-dasharray="16.8 8.4 16.8 8.3 0.35 8.15"/>
<path d="M88.00,397.40 88.32,397.40 88.64,397.40 88.80,397.40 88.96,397.40 89.27,397.40 89.59,397.40 89.91,397.40 90.23,397.40 90.39,397.40 90.55,397.40 90.87,397.40 91.19,397.40 91.51,397.40 91.82,397.40 91.98,397.40 92.14,397.40 92.46,397.40 92.78,397.40 93.10,397.40 93.42,397.40 93.58,397.40 93.74,397.40 94.06,397.40 94.37,397.40 94.69,397.40 95.01,397.40 95.17,397.40 95.33,397.40 95.65,397.40 95.97,397.40 96.29,397.40 96.60,397.40 96.76,397.40 96.92,397.40 97.24,397.40 97.56,397.40 97.88,397.40 98.20,397.40 98.36,397.40 98.52,397.40 98.84,397.40 99.15,397.40 99.47,397.40 99.79,397.40 99.95,397.40 100.11,397.40 100.43,397.40 100.75,397.40 101.07,397.40 101.39,397.40 101.54,397.40 101.70,397.40 102.02,397.40 102.34,397.40 102.66,397.40 102.98,397.40 103.14,397.40 103.30,397.40 103.62,397.40 103.94,397.40 104.25,397.40 104.57,397.40 104.73,397.40 104.89,397.40 105.21,397.40 105.53,397.40 105.85,397.40 106.17,397.40 106.33,397.40 106.48,397.40 106.80,397.40 107.12,397.40 107.44,397.40 107.76,397.40 107.92,397.40 108.08,397.40 108.40,397.40 108.72,397.40 109.03,397.40 109.35,397.40 109.51,397.40 109.67,397.40 109.99,397.40 110.31,397.40 110.63,397.40 110.95,397.40 111.11,397.40 111.27,397.40 111.58,397.40 111.90,397.40 112.22,397.40 112.54,397.40 112.70,397.40 112.86,397.40 113.18,397.40 113.50,397.40 113.81,397.40 114.13,397.40 114.29,397.40 114.45,397.40 114.77,397.40 115.09,397.40 115.41,397.40 115.73,397.40 115.89,397.40 116.05,397.40 116.36,397.40 116.68,397.40 117.00,397.40 117.32,397.40 117.48,397.40 117.64,397.40 117.96,397.40 118.28,397.40 118.60,397.40 118.91,397.40 119.07,397.40 119.23,397.40 119.55,397.40 119.87,397.40 120.19,397.40 120.51,397.40 120.67,397.40 120.83,397.40 121.14,397.40 121.46,397.40 121.78,397.40 122.10,397.40 122.26,397.40 122.42,397.40 122.74,397.40 123.06,397.40 123.38,397.40 123.69,397.40 123.85,397.40 124.01,397.40 124.33,397.40 124.65,397.40 124.97,397.40 125.29,397.40 125.45,397.40 125.61,397.40 125.93,397.40 126.24,397.40 126.56,397.40 126.88,397.40 127.04,397.40 127.20,397.40 127.52,397.40 127.84,397.40 128.16,397.40 128.47,397.40 128.63,397.40 128.79,397.40 129.11,397.40 129.43,397.40 129.75,397.40 130.07,397.40 130.23,397.40 130.39,397.40 130.71,397.40 131.02,397.40 131.34,397.40 131.66,397.40 131.82,397.40 131.98,397.40 132.30,397.40 132.62,397.40 132.94,397.40 133.26,397.40 133.41,397.40 133.57,397.40 133.89,397.40 134.21,397.40 134.53,397.39 134.85,397.39 135.01,397.39 135.17,397.39 135.49,397.39 135.81,397.39 136.12,397.39 136.44,397.39 136.60,397.39 136.76,397.39 137.08,397.39 137.40,397.39 137.72,397.39 138.04,397.39 138.20,397.38 138.35,397.38 138.67,397.38 138.99,397.38 139.31,397.38 139.63,397.38 139.79,397.38 139.95,397.38 140.27,397.37 140.59,397.37 140.90,397.37 141.22,397.37 141.38,397.37 141.54,397.36 141.86,397.36 142.18,397.36 142.50,397.36 142.82,397.35 142.98,397.35 143.14,397.35 143.45,397.35 143.77,397.34 144.09,397.34 144.41,397.33 144.57,397.33 144.73,397.33 145.05,397.33 145.37,397.32 145.68,397.32 146.00,397.31 146.16,397.31 146.32,397.30 146.64,397.30 146.96,397.29 147.28,397.29 147.60,397.28 147.76,397.28 147.92,397.27 148.23,397.26 148.55,397.26 148.87,397.25 149.19,397.24 149.35,397.24 149.51,397.23 149.83,397.22 150.15,397.21 150.47,397.20 150.78,397.19 150.94,397.19 151.10,397.18 151.42,397.17 151.74,397.16 152.06,397.15 152.38,397.13 152.54,397.13 152.70,397.12 153.01,397.11 153.33,397.09 153.65,397.08 153.97,397.07 154.13,397.06 154.29,397.05 154.61,397.03 154.93,397.02 155.25,397.00 155.56,396.98 155.72,396.97 155.88,396.96 156.20,396.95 156.52,396.93 156.84,396.91 157.16,396.89 157.32,396.88 157.48,396.86 157.80,396.84 158.11,396.82 158.43,396.80 158.75,396.77 158.91,396.76 159.07,396.75 159.39,396.72 159.71,396.70 160.03,396.67 160.34,396.65 160.50,396.63 160.66,396.62 160.98,396.59 161.30,396.56 161.62,396.53 161.94,396.50 162.10,396.48 162.26,396.47 162.58,396.43 162.89,396.40 163.21,396.37 163.53,396.33 163.69,396.31 163.85,396.30 164.17,396.26 164.49,396.22 165.28,396.13 166.08,396.02 166.88,395.92 167.68,395.80 168.47,395.68 169.27,395.56 170.07,395.43 170.86,395.29 171.66,395.15 172.46,395.00 173.25,394.84 174.05,394.68 174.85,394.51 175.64,394.34 176.44,394.16 177.24,393.97 178.03,393.77 178.83,393.57 179.63,393.36 180.42,393.15 181.22,392.92 182.02,392.69 182.81,392.46 183.61,392.21 184.41,391.96 185.20,391.70 186.00,391.44 186.80,391.17 187.59,390.89 188.39,390.60 189.19,390.31 189.98,390.01 190.78,389.70 191.58,389.39 192.37,389.07 193.17,388.74 193.97,388.40 194.76,388.06 195.56,387.71 196.36,387.35 197.15,386.99 197.95,386.62 198.75,386.24 199.55,385.86 200.34,385.47 201.14,385.07 201.94,384.67 202.73,384.26 203.53,383.84 204.33,383.42 205.12,382.99 205.92,382.55 206.72,382.11 207.51,381.66 208.31,381.20 209.11,380.74 209.90,380.27 210.70,379.80 211.50,379.31 212.29,378.83 213.09,378.34 213.89,377.84 214.68,377.33 215.48,376.82 216.28,376.30 217.07,375.78 217.87,375.25 218.67,374.72 219.46,374.18 220.26,373.64 221.06,373.09 221.85,372.53 222.65,371.97 223.45,371.41 224.24,370.83 225.04,370.26 225.84,369.68 226.63,369.09 227.43,368.50 228.23,367.90 229.02,367.30 229.82,366.69 230.62,366.08 231.41,365.47 232.21,364.85 233.01,364.22 233.81,363.59 234.60,362.96 235.40,362.32 236.20,361.68 236.99,361.03 237.79,360.38 238.59,359.72 239.38,359.06 240.18,358.40 240.98,357.73 241.77,357.06 242.57,356.38 243.37,355.70 244.16,355.02 244.96,354.33 245.76,353.64 246.55,352.94 247.35,352.24 248.15,351.54 248.94,350.83 249.74,350.12 250.54,349.41 251.33,348.69 252.13,347.97 252.93,347.25 253.72,346.52 254.52,345.79 255.32,345.06 256.11,344.32 256.91,343.58 257.71,342.84 258.50,342.09 259.30,341.35 260.10,340.59 260.89,339.84 261.69,339.08 262.49,338.32 263.28,337.56 264.08,336.79 264.88,336.02 265.68,335.25 266.47,334.48 267.27,333.70 268.07,332.92 268.86,332.14 269.66,331.35 270.46,330.57 271.25,329.78 272.05,328.98 272.85,328.19 273.64,327.39 274.44,326.59 275.24,325.79 276.03,324.99 276.83,324.18 277.63,323.38 278.42,322.57 279.22,321.75 280.02,320.94 280.81,320.12 281.61,319.31 282.41,318.49 283.20,317.66 284.00,316.84 284.80,316.01 285.59,315.19 286.39,314.36 287.19,313.52 287.98,312.69 288.78,311.86 289.58,311.02 290.37,310.18 291.17,309.34 291.97,308.50 292.76,307.65 293.56,306.81 294.36,305.96 295.15,305.11 295.95,304.26 296.75,303.41 297.55,302.56 298.34,301.71 299.14,300.85 299.94,299.99 300.73,299.13 301.53,298.27 302.33,297.41 303.12,296.55 303.92,295.69 304.72,294.82 305.51,293.96 306.31,293.09 307.11,292.22 307.90,291.35 308.70,290.48 309.50,289.61 310.29,288.73 311.09,287.86 311.89,286.98 312.68,286.10 313.48,285.23 314.28,284.35 315.07,283.47 315.87,282.59 316.67,281.71 317.46,280.82 318.26,279.94 319.06,279.05 319.85,278.17 320.65,277.28 321.45,276.39 322.24,275.51 323.04,274.62 323.84,273.73 324.63,272.84 325.43,271.94 326.23,271.05 327.02,270.16 327.82,269.27 328.62,268.37 329.42,267.48 330.21,266.58 331.01,265.68 331.81,264.79 332.60,263.89 333.40,262.99 334.20,262.09 334.99,261.19 335.79,260.29 336.59,259.39 337.38,258.49 338.18,257.58 338.98,256.68 339.77,255.78 340.57,254.87 341.37,253.97 342.16,253.07 342.96,252.16 343.76,251.25 344.55,250.35 345.35,249.44 346.15,248.53 346.94,247.63 347.74,246.72 348.54,245.81 349.33,244.90 350.13,243.99 350.93,243.08 351.72,242.17 352.52,241.26 353.32,240.35 354.11,239.44 354.91,238.53 355.71,237.62 356.50,236.71 357.30,235.80 358.10,234.89 358.89,233.98 359.69,233.06 360.49,232.15 361.29,231.24 362.08,230.33 362.88,229.41 363.68,228.50 364.47,227.59 365.27,226.67 366.07,225.76 366.86,224.85 367.66,223.93 368.46,223.02 369.25,222.10 370.05,221.19 370.85,220.28 371.64,219.36 372.44,218.45 373.24,217.54 374.03,216.62 374.83,215.71 375.63,214.79 376.42,213.88 377.22,212.97 378.02,212.05 378.81,211.14 379.61,210.23 380.41,209.31 381.20,208.40 382.00,207.49 382.80,206.57 383.59,205.66 384.39,204.75 385.19,203.84 385.98,202.93 386.78,202.01 387.58,201.10 388.37,200.19 389.17,199.28 389.97,198.37 390.76,197.46 391.56,196.55 392.36,195.64 393.16,194.73 393.95,193.82 394.75,192.91 395.55,192.00 396.34,191.10 397.14,190.19 397.94,189.28 398.73,188.38 399.53,187.47 400.33,186.57 401.12,185.66 401.92,184.76 402.72,183.85 403.51,182.95 404.31,182.05 405.11,181.15 405.90,180.24 406.70,179.34 407.50,178.44 408.29,177.54 409.09,176.65 409.89,175.75 410.68,174.85 411.48,173.96 412.28,173.06 413.07,172.17 413.87,171.27 414.67,170.38 415.46,169.49 416.26,168.60 417.06,167.71 417.85,166.82 418.65,165.93 419.45,165.04 420.24,164.16 421.04,163.27 421.84,162.39 422.63,161.50 423.43,160.62 424.23,159.74 425.03,158.86 425.82,157.98 426.62,157.11 427.42,156.23 428.21,155.36 429.01,154.48 429.81,153.61 430.60,152.74 431.40,151.87 432.20,151.01 432.99,150.14 433.79,149.28 434.59,148.41 435.38,147.55 436.18,146.69 436.98,145.83 437.77,144.98 438.57,144.12 439.37,143.27 440.16,142.42 440.96,141.57 441.76,140.72 442.55,139.87 443.35,139.03 444.15,138.19 444.94,137.35 445.74,136.51 446.54,135.68 447.33,134.84 448.13,134.01 448.93,133.18 449.72,132.35 450.52,131.53 451.32,130.71 452.11,129.89 452.91,129.07 453.71,128.25 454.51,127.44 455.30,126.63 456.10,125.82 456.90,125.02 457.69,124.21 458.49,123.41 459.29,122.62 460.08,121.82 460.88,121.03 461.68,120.24 462.47,119.46 463.27,118.67 464.07,117.89 464.86,117.12 465.66,116.35 466.46,115.57 467.25,114.81 468.05,114.04 468.85,113.28 469.64,112.53 470.44,111.77 471.24,111.02 472.03,110.28 472.83,109.54 473.63,108.80 474.42,108.06 475.22,107.33 476.02,106.60 476.81,105.88 477.61,105.16 478.41,104.45 479.20,103.73 480.00,103.03 480.80,102.32 481.59,101.63 482.39,100.93 483.19,100.24 483.98,99.56 484.78,98.88 485.58,98.20 486.38,97.53 487.17,96.86 487.97,96.20 488.77,95.55 489.56,94.89 490.36,94.25 491.16,93.61 491.95,92.97 492.75,92.34 493.55,91.71 494.34,91.09 495.14,90.48 495.94,89.87 496.73,89.27 497.53,88.67 498.33,88.08 499.12,87.49 499.92,86.91 500.72,86.34 501.51,85.77 502.31,85.21 503.11,84.66 503.90,84.11 504.70,83.57 505.50,83.03 506.29,82.51 507.09,81.98 507.89,81.47 508.68,80.96 509.48,80.46 510.28,79.97 511.07,79.48 511.87,79.00 512.67,78.53 513.46,78.07 514.26,77.61 515.06,77.16 515.85,76.72 516.65,76.29 517.45,75.86 518.25,75.44 519.04,75.03 519.84,74.63 520.64,74.24 521.43,73.86 522.23,73.48 523.03,73.12 523.82,72.76 524.62,72.41 525.42,72.07 526.21,71.74 527.01,71.41 527.81,71.10 528.60,70.80 529.40,70.51 530.20,70.22 530.99,69.95 531.79,69.68 532.59,69.43 533.38,69.18 534.18,68.95 534.98,68.72 535.77,68.51 536.57,68.31 537.37,68.11 538.16,67.93 538.96,67.76 539.76,67.60 540.55,67.45 541.35,67.31 542.15,67.18 542.94,67.07 543.74,66.96 544.54,66.87 545.33,66.79 546.13,66.72 546.93,66.66 547.72,66.62 548.52,66.58 549.32,66.56 550.12,66.55 550.91,66.56 551.71,66.57 552.51,66.60 553.30,66.65 554.10,66.70 554.90,66.77 555.69,66.85 556.49,66.94 557.29,67.05 558.08,67.17 558.88,67.31 559.68,67.46 560.47,67.62 561.27,67.80 562.07,67.99 562.86,68.19 563.66,68.41 564.46,68.65 565.25,68.90 566.05,69.16 566.85,69.44 567.64,69.73 568.44,70.04 569.24,70.36 570.03,70.70 570.83,71.06 571.63,71.43 572.42,71.81 573.22,72.21 574.02,72.63 574.81,73.06 575.61,73.51 576.41,73.98 577.20,74.46 578.00,74.96 578.80,75.47 579.59,76.00 580.39,76.55 581.19,77.12 581.99,77.70 582.78,78.30 583.58,78.91 584.38,79.54 585.17,80.20 585.97,80.86 586.77,81.55 587.56,82.25 588.36,82.97 589.16,83.71 589.95,84.47 590.75,85.24 591.55,86.04 592.34,86.85 593.14,87.68 593.94,88.53 594.73,89.39 595.53,90.28 596.33,91.18 597.12,92.11 597.92,93.05 598.72,94.01 599.51,94.99 600.31,95.99 601.11,97.01 601.90,98.04 602.70,99.10 603.50,100.18 604.29,101.27 605.09,102.39 605.89,103.52 606.68,104.68 607.48,105.85 608.28,107.05 609.07,108.26 609.87,109.50 610.67,110.75 611.46,112.02 612.26,113.32 613.06,114.63 613.86,115.97 614.65,117.32 615.45,118.70 616.25,120.09 617.04,121.51 617.84,122.95 618.64,124.40 619.43,125.88 620.23,127.38 621.03,128.90 621.82,130.44 622.62,132.00 623.42,133.58 624.21,135.18 625.01,136.80 625.81,138.44 626.60,140.11 627.40,141.79 628.20,143.50 628.99,145.22 629.79,146.97 630.59,148.73 631.38,150.52 632.18,152.33 632.98,154.15 633.77,156.00 634.57,157.87 635.37,159.76 636.16,161.67 636.96,163.60 637.76,165.55 638.55,167.52 639.35,169.52 640.15,171.53 640.94,173.56 641.74,175.61 642.54,177.68 643.33,179.77 644.13,181.89 644.93,184.02 645.73,186.17 646.52,188.34 647.32,190.53 648.12,192.74 648.91,194.97 649.71,197.21 650.51,199.48 651.30,201.77 652.10,204.07 652.90,206.40 653.69,208.74 654.49,211.10 655.29,213.47 656.08,215.87 656.88,218.28 657.68,220.72 658.47,223.17 659.27,225.63 660.07,228.11 660.86,230.61 661.66,233.13 661.98,234.14 662.30,235.16 662.46,235.66 662.62,236.17 662.93,237.19 663.25,238.21 663.57,239.24 663.89,240.26 664.05,240.78 664.21,241.29 664.53,242.32 664.85,243.36 665.17,244.39 665.48,245.43 665.64,245.95 665.80,246.47 666.12,247.52 666.44,248.56 666.76,249.61 667.08,250.66 667.24,251.19 667.40,251.71 667.72,252.77 668.03,253.82 668.35,254.88 668.67,255.95 668.83,256.48 668.99,257.01 669.31,258.07 669.63,259.14 669.95,260.21 670.26,261.29 670.42,261.82 670.58,262.36 670.90,263.44 671.22,264.51 671.54,265.59 671.86,266.68 672.02,267.22 672.18,267.76 672.50,268.85 672.81,269.93 673.13,271.02 673.45,272.12 673.61,272.66 673.77,273.21 674.09,274.30 674.41,275.40 674.73,276.50 675.05,277.60 675.20,278.15 675.36,278.70 675.68,279.80 676.00,280.91 676.32,282.01 676.64,283.12 676.80,283.67 676.96,284.23 677.28,285.34 677.60,286.45 677.91,287.56 678.23,288.68 678.39,289.23 678.55,289.79 678.87,290.91 679.19,292.03 679.51,293.14 679.83,294.26 679.99,294.82 680.14,295.38 680.46,296.50 680.78,297.63 681.10,298.75 681.42,299.87 681.58,300.43 681.74,301.00 682.06,302.12 682.38,303.25 682.69,304.37 683.01,305.50 683.17,306.06 683.33,306.63 683.65,307.75 683.97,308.88 684.29,310.01 684.61,311.13 684.77,311.70 684.93,312.26 685.24,313.39 685.56,314.52 685.88,315.64 686.20,316.77 686.36,317.33 686.52,317.90 686.84,319.02 687.16,320.15 687.47,321.27 687.79,322.40 687.95,322.96 688.11,323.52 688.43,324.64 688.75,325.77 689.07,326.89 689.39,328.01 689.55,328.56 689.71,329.12 690.02,330.24 690.34,331.35 690.66,332.47 690.98,333.58 691.14,334.13 691.30,334.69 691.62,335.80 691.94,336.90 692.26,338.00 692.57,339.11 692.73,339.66 692.89,340.20 693.21,341.30 693.53,342.39 693.53,342.39 693.85,343.48 694.17,344.57 694.33,345.11 694.49,345.65 694.80,346.73 695.12,347.81 695.44,348.88 695.76,349.95 695.92,350.48 696.08,351.01 696.40,352.07 696.72,353.12 696.72,353.12 697.04,354.17 697.35,355.22 697.51,355.74 697.67,356.26 697.99,357.29 698.31,358.32 698.63,359.34 698.95,360.36 699.11,360.87 699.27,361.37 699.59,362.37 699.90,363.37 700.22,364.36 700.54,365.34 700.70,365.83 700.86,366.31 701.18,367.28 701.50,368.24 701.82,369.18 702.13,370.12 702.29,370.59 702.45,371.05 702.77,371.97 703.09,372.88 703.41,373.78 703.73,374.67 703.89,375.11 704.05,375.55 704.37,376.42 704.68,377.27 705.00,378.11 705.32,378.94 705.48,379.35 705.64,379.76 705.96,380.56 706.28,381.35 706.60,382.12 706.92,382.88 707.07,383.25 707.23,383.62 707.55,384.35 707.87,385.06 708.19,385.75 708.51,386.43 708.67,386.76 708.83,387.09 709.15,387.73 709.46,388.35 709.78,388.96 710.10,389.54 710.26,389.83 710.42,390.11 710.74,390.65 711.06,391.17 711.38,391.67 711.70,392.16 711.86,392.39 712.01,392.61 712.33,393.05 712.65,393.47 712.97,393.86 713.29,394.23 713.45,394.40 713.61,394.57 713.93,394.90 714.25,395.20 714.56,395.48 714.88,395.73 715.04,395.85 715.20,395.97 715.52,396.18 715.84,396.37 716.16,396.54 716.48,396.70 716.64,396.76 716.80,396.83 717.11,396.94 717.43,397.04 717.75,397.12 718.07,397.19 718.23,397.22 718.39,397.25 718.71,397.29 719.03,397.32 719.34,397.35 719.66,397.37 719.82,397.37 719.98,397.38 720.30,397.39 720.62,397.39 720.94,397.40 721.26,397.40 721.42,397.40 721.58,397.40 721.89,397.40 722.21,397.40 722.53,397.40 722.85,397.40 723.01,397.40 723.17,397.40 723.49,397.40 723.81,397.40 724.13,397.40 724.44,397.40 724.60,397.40 724.76,397.40 725.08,397.40 725.40,397.40" fill="none" stroke="#ff0000" stroke-width="3.5" stroke-linecap="square" stroke-linejoin="round" stroke-dasharray="8.31 8.31"/>
<path d="M88.00,397.40 88.32,397.40 88.64,397.40 88.80,397.40 88.96,397.40 89.27,397.40 89.59,397.40 89.91,397.40 90.23,397.40 90.39,397.40 90.55,397.40 90.87,397.40 91.19,397.40 91.51,397.40 91.82,397.40 91.98,397.40 92.14,397.40 92.46,397.40 92.78,397.40 93.10,397.40 93.42,397.40 93.58,397.40 93.74,397.40 94.06,397.40 94.37,397.40 94.69,397.40 95.01,397.40 95.17,397.40 95.33,397.40 95.65,397.40 95.97,397.40 96.29,397.40 96.60,397.40 96.76,397.40 96.92,397.40 97.24,397.40 97.56,397.40 97.88,397.40 98.20,397.40 98.36,397.40 98.52,397.40 98.84,397.40 99.15,397.40 99.47,397.40 99.79,397.40 99.95,397.40 100.11,397.40 100.43,397.40 100.75,397.40 101.07,397.40 101.39,397.40 101.54,397.40 101.70,397.40 102.02,397.40 102.34,397.40 102.66,397.40 102.98,397.40 103.14,397.40 103.30,397.40 103.62,397.40 103.94,397.40 104.25,397.40 104.57,397.40 104.73,397.40 104.89,397.40 105.21,397.40 105.53,397.40 105.85,397.40 106.17,397.40 106.33,397.40 106.48,397.40 106.80,397.40 107.12,397.40 107.44,397.40 107.76,397.40 107.92,397.40 108.08,397.40 108.40,397.40 108.72,397.40 109.03,397.40 109.35,397.40 109.51,397.40 109.67,397.40 109.99,397.40 110.31,397.40 110.63,397.40 110.95,397.40 111.11,397.40 111.27,397.40 111.58,397.40 111.90,397.40 112.22,397.40 112.54,397.40 112.70,397.40 112.86,397.40 113.18,397.40 113.50,397.40 113.81,397.40 114.13,397.40 114.29,397.40 114.45,397.40 114.77,397.40 115.09,397.40 115.41,397.40 115.73,397.40 115.89,397.40 116.05,397.40 116.36,397.40 116.68,397.40 117.00,397.40 117.32,397.40 117.48,397.40 117.64,397.40 117.96,397.40 118.28,397.40 118.60,397.40 118.91,397.40 119.07,397.40 119.23,397.40 119.55,397.40 119.87,397.40 120.19,397.40 120.51,397.40 120.67,397.40 120.83,397.40 121.14,397.40 121.46,397.40 121.78,397.40 122.10,397.40 122.26,397.40 122.42,397.40 122.74,397.40 123.06,397.40 123.38,397.40 123.69,397.40 123.85,397.40 124.01,397.40 124.33,397.40 124.65,397.40 124.97,397.40 125.29,397.40 125.45,397.40 125.61,397.40 125.93,397.40 126.24,397.40 126.56,397.40 126.88,397.40 127.04,397.40 127.20,397.40 127.52,397.40 127.84,397.40 128.16,397.40 128.47,397.40 128.63,397.40 128.79,397.40 129.11,397.40 129.43,397.40 129.75,397.40 130.07,397.40 130.23,397.40 130.39,397.40 130.71,397.40 131.02,397.40 131.34,397.40 131.66,397.40 131.82,397.40 131.98,397.40 132.30,397.40 132.62,397.40 132.94,397.40 133.26,397.40 133.41,397.40 133.57,397.40 133.89,397.40 134.21,397.40 134.53,397.40 134.85,397.40 135.01,397.40 135.17,397.40 135.49,397.40 135.81,397.40 136.12,397.40 136.44,397.40 136.60,397.40 136.76,397.40 137.08,397.40 137.40,397.40 137.72,397.40 138.04,397.40 138.20,397.40 138.35,397.40 138.67,397.40 138.99,397.40 139.31,397.40 139.63,397.40 139.79,397.40 139.95,397.40 140.27,397.40 140.59,397.40 140.90,397.40 141.22,397.40 141.38,397.40 141.54,397.40 141.86,397.40 142.18,397.40 142.50,397.40 142.82,397.40 142.98,397.40 143.14,397.40 143.45,397.40 143.77,397.40 144.09,397.40 144.41,397.40 144.57,397.40 144.73,397.40 145.05,397.40 145.37,397.40 145.68,397.40 146.00,397.40 146.16,397.39 146.32,397.39 146.64,397.39 146.96,397.39 147.28,397.39 147.60,397.39 147.76,397.39 147.92,397.39 148.23,397.39 148.55,397.39 148.87,397.39 149.19,397.39 149.35,397.39 149.51,397.39 149.83,397.39 150.15,397.39 150.47,397.39 150.78,397.39 150.94,397.39 151.10,397.39 151.42,397.39 151.74,397.39 152.06,397.39 152.38,397.39 152.54,397.39 152.70,397.39 153.01,397.39 153.33,397.39 153.65,397.39 153.97,397.39 154.13,397.39 154.29,397.39 154.61,397.38 154.93,397.38 155.25,397.38 155.56,397.38 155.72,397.38 155.88,397.38 156.20,397.38 156.52,397.38 156.84,397.38 157.16,397.38 157.32,397.38 157.48,397.38 157.80,397.38 158.11,397.38 158.43,397.38 158.75,397.38 158.91,397.38 159.07,397.37 159.39,397.37 159.71,397.37 160.03,397.37 160.34,397.37 160.50,397.37 160.66,397.37 160.98,397.37 161.30,397.37 161.62,397.37 161.94,397.37 162.10,397.37 162.26,397.36 162.58,397.36 162.89,397.36 163.21,397.36 163.53,397.36 163.69,397.36 163.85,397.36 164.17,397.36 164.49,397.36 165.28,397.35 166.08,397.35 166.88,397.34 167.68,397.34 168.47,397.33 169.27,397.33 170.07,397.32 170.86,397.32 171.66,397.31 172.46,397.31 173.25,397.30 174.05,397.29 174.85,397.28 175.64,397.27 176.44,397.27 177.24,397.26 178.03,397.25 178.83,397.24 179.63,397.23 180.42,397.21 181.22,397.20 182.02,397.19 182.81,397.18 183.61,397.16 184.41,397.15 185.20,397.13 186.00,397.12 186.80,397.10 187.59,397.08 188.39,397.06 189.19,397.04 189.98,397.02 190.78,397.00 191.58,396.98 192.37,396.96 193.17,396.93 193.97,396.91 194.76,396.88 195.56,396.85 196.36,396.83 197.15,396.80 197.95,396.76 198.75,396.73 199.55,396.70 200.34,396.66 201.14,396.63 201.94,396.59 202.73,396.55 203.53,396.51 204.33,396.47 205.12,396.43 205.92,396.38 206.72,396.33 207.51,396.29 208.31,396.24 209.11,396.18 209.90,396.13 210.70,396.07 211.50,396.02 212.29,395.96 213.09,395.90 213.89,395.83 214.68,395.77 215.48,395.70 216.28,395.63 217.07,395.56 217.87,395.49 218.67,395.41 219.46,395.34 220.26,395.26 221.06,395.17 221.85,395.09 222.65,395.00 223.45,394.91 224.24,394.82 225.04,394.73 225.84,394.63 226.63,394.53 227.43,394.43 228.23,394.32 229.02,394.22 229.82,394.11 230.62,393.99 231.41,393.88 232.21,393.76 233.01,393.64 233.81,393.51 234.60,393.38 235.40,393.25 236.20,393.12 236.99,392.98 237.79,392.84 238.59,392.70 239.38,392.55 240.18,392.41 240.98,392.25 241.77,392.10 242.57,391.94 243.37,391.78 244.16,391.61 244.96,391.44 245.76,391.27 246.55,391.09 247.35,390.91 248.15,390.73 248.94,390.54 249.74,390.35 250.54,390.16 251.33,389.96 252.13,389.76 252.93,389.56 253.72,389.35 254.52,389.14 255.32,388.92 256.11,388.70 256.91,388.48 257.71,388.25 258.50,388.02 259.30,387.79 260.10,387.55 260.89,387.31 261.69,387.06 262.49,386.81 263.28,386.55 264.08,386.30 264.88,386.03 265.68,385.77 266.47,385.50 267.27,385.22 268.07,384.94 268.86,384.66 269.66,384.38 270.46,384.08 271.25,383.79 272.05,383.49 272.85,383.19 273.64,382.88 274.44,382.57 275.24,382.26 276.03,381.94 276.83,381.61 277.63,381.28 278.42,380.95 279.22,380.62 280.02,380.28 280.81,379.93 281.61,379.58 282.41,379.23 283.20,378.87 284.00,378.51 284.80,378.15 285.59,377.78 286.39,377.40 287.19,377.03 287.98,376.64 288.78,376.26 289.58,375.87 290.37,375.47 291.17,375.07 291.97,374.67 292.76,374.26 293.56,373.85 294.36,373.44 295.15,373.02 295.95,372.59 296.75,372.16 297.55,371.73 298.34,371.30 299.14,370.86 299.94,370.41 300.73,369.96 301.53,369.51 302.33,369.05 303.12,368.59 303.92,368.13 304.72,367.66 305.51,367.18 306.31,366.71 307.11,366.22 307.90,365.74 308.70,365.25 309.50,364.76 310.29,364.26 311.09,363.76 311.89,363.25 312.68,362.74 313.48,362.23 314.28,361.71 315.07,361.19 315.87,360.66 316.67,360.13 317.46,359.60 318.26,359.06 319.06,358.52 319.85,357.98 320.65,357.43 321.45,356.88 322.24,356.32 323.04,355.76 323.84,355.19 324.63,354.63 325.43,354.05 326.23,353.48 327.02,352.90 327.82,352.32 328.62,351.73 329.42,351.14 330.21,350.55 331.01,349.95 331.81,349.35 332.60,348.74 333.40,348.13 334.20,347.52 334.99,346.90 335.79,346.28 336.59,345.66 337.38,345.03 338.18,344.40 338.98,343.77 339.77,343.13 340.57,342.49 341.37,341.84 342.16,341.20 342.96,340.54 343.76,339.89 344.55,339.23 345.35,338.57 346.15,337.90 346.94,337.23 347.74,336.56 348.54,335.88 349.33,335.20 350.13,334.52 350.93,333.83 351.72,333.15 352.52,332.45 353.32,331.76 354.11,331.06 354.91,330.35 355.71,329.65 356.50,328.94 357.30,328.22 358.10,327.51 358.89,326.79 359.69,326.07 360.49,325.34 361.29,324.61 362.08,323.88 362.88,323.14 363.68,322.40 364.47,321.66 365.27,320.91 366.07,320.17 366.86,319.41 367.66,318.66 368.46,317.90 369.25,317.14 370.05,316.37 370.85,315.61 371.64,314.83 372.44,314.06 373.24,313.28 374.03,312.50 374.83,311.72 375.63,310.93 376.42,310.14 377.22,309.35 378.02,308.55 378.81,307.75 379.61,306.95 380.41,306.15 381.20,305.34 382.00,304.52 382.80,303.71 383.59,302.89 384.39,302.07 385.19,301.25 385.98,300.42 386.78,299.59 387.58,298.76 388.37,297.92 389.17,297.08 389.97,296.24 390.76,295.39 391.56,294.54 392.36,293.69 393.16,292.84 393.95,291.98 394.75,291.12 395.55,290.25 396.34,289.39 397.14,288.52 397.94,287.64 398.73,286.77 399.53,285.89 400.33,285.00 401.12,284.12 401.92,283.23 402.72,282.34 403.51,281.44 404.31,280.55 405.11,279.65 405.90,278.74 406.70,277.84 407.50,276.93 408.29,276.01 409.09,275.10 409.89,274.18 410.68,273.26 411.48,272.33 412.28,271.40 413.07,270.47 413.87,269.54 414.67,268.60 415.46,267.66 416.26,266.72 417.06,265.77 417.85,264.82 418.65,263.87 419.45,262.91 420.24,261.95 421.04,260.99 421.84,260.03 422.63,259.06 423.43,258.09 424.23,257.12 425.03,256.14 425.82,255.16 426.62,254.18 427.42,253.19 428.21,252.20 429.01,251.21 429.81,250.22 430.60,249.22 431.40,248.22 432.20,247.21 432.99,246.21 433.79,245.20 434.59,244.18 435.38,243.17 436.18,242.15 436.98,241.13 437.77,240.10 438.57,239.07 439.37,238.04 440.16,237.01 440.96,235.97 441.76,234.93 442.55,233.89 443.35,232.85 444.15,231.80 444.94,230.75 445.74,229.69 446.54,228.63 447.33,227.58 448.13,226.51 448.93,225.45 449.72,224.38 450.52,223.31 451.32,222.23 452.11,221.16 452.91,220.08 453.71,218.99 454.51,217.91 455.30,216.82 456.10,215.73 456.90,214.64 457.69,213.54 458.49,212.44 459.29,211.34 460.08,210.24 460.88,209.13 461.68,208.02 462.47,206.91 463.27,205.80 464.07,204.68 464.86,203.56 465.66,202.44 466.46,201.32 467.25,200.19 468.05,199.06 468.85,197.93 469.64,196.80 470.44,195.66 471.24,194.53 472.03,193.39 472.83,192.24 473.63,191.10 474.42,189.95 475.22,188.80 476.02,187.65 476.81,186.50 477.61,185.35 478.41,184.19 479.20,183.03 480.00,181.87 480.80,180.71 481.59,179.55 482.39,178.38 483.19,177.22 483.98,176.05 484.78,174.88 485.58,173.71 486.38,172.54 487.17,171.36 487.97,170.19 488.77,169.01 489.56,167.83 490.36,166.65 491.16,165.47 491.95,164.29 492.75,163.11 493.55,161.93 494.34,160.75 495.14,159.56 495.94,158.38 496.73,157.19 497.53,156.01 498.33,154.82 499.12,153.64 499.92,152.45 500.72,151.26 501.51,150.08 502.31,148.89 503.11,147.71 503.90,146.52 504.70,145.33 505.50,144.15 506.29,142.96 507.09,141.78 507.89,140.60 508.68,139.41 509.48,138.23 510.28,137.05 511.07,135.87 511.87,134.69 512.67,133.52 513.46,132.34 514.26,131.17 515.06,129.99 515.85,128.82 516.65,127.65 517.45,126.49 518.25,125.32 519.04,124.16 519.84,123.00 520.64,121.85 521.43,120.69 522.23,119.54 523.03,118.39 523.82,117.25 524.62,116.11 525.42,114.97 526.21,113.83 527.01,112.70 527.81,111.58 528.60,110.45 529.40,109.33 530.20,108.22 530.99,107.11 531.79,106.01 532.59,104.91 533.38,103.81 534.18,102.72 534.98,101.64 535.77,100.56 536.57,99.49 537.37,98.42 538.16,97.36 538.96,96.31 539.76,95.26 540.55,94.22 541.35,93.19 542.15,92.16 542.94,91.14 543.74,90.13 544.54,89.13 545.33,88.13 546.13,87.14 546.93,86.17 547.72,85.20 548.52,84.23 549.32,83.28 550.12,82.34 550.91,81.41 551.71,80.49 552.51,79.57 553.30,78.67 554.10,77.78 554.90,76.90 555.69,76.03 556.49,75.17 557.29,74.32 558.08,73.49 558.88,72.67 559.68,71.86 560.47,71.06 561.27,70.27 562.07,69.50 562.86,68.75 563.66,68.00 564.46,67.27 565.25,66.56 566.05,65.86 566.85,65.17 567.64,64.50 568.44,63.84 569.24,63.20 570.03,62.58 570.83,61.97 571.63,61.38 572.42,60.81 573.22,60.25 574.02,59.71 574.81,59.19 575.61,58.69 576.41,58.21 577.20,57.74 578.00,57.30 578.80,56.87 579.59,56.46 580.39,56.08 581.19,55.71 581.99,55.37 582.78,55.04 583.58,54.74 584.38,54.46 585.17,54.20 585.97,53.97 586.77,53.75 587.56,53.56 588.36,53.40 589.16,53.26 589.95,53.14 590.75,53.04 591.55,52.97 592.34,52.93 593.14,52.91 593.94,52.92 594.73,52.95 595.53,53.01 596.33,53.10 597.12,53.22 597.92,53.36 598.72,53.53 599.51,53.73 600.31,53.95 601.11,54.21 601.90,54.49 602.70,54.81 603.50,55.15 604.29,55.53 605.09,55.93 605.89,56.37 606.68,56.84 607.48,57.34 608.28,57.87 609.07,58.43 609.87,59.03 610.67,59.66 611.46,60.32 612.26,61.01 613.06,61.74 613.86,62.51 614.65,63.31 615.45,64.14 616.25,65.01 617.04,65.91 617.84,66.85 618.64,67.83 619.43,68.84 620.23,69.88 621.03,70.97 621.82,72.09 622.62,73.25 623.42,74.44 624.21,75.68 625.01,76.95 625.81,78.26 626.60,79.61 627.40,81.00 628.20,82.42 628.99,83.89 629.79,85.39 630.59,86.93 631.38,88.52 632.18,90.14 632.98,91.80 633.77,93.51 634.57,95.25 635.37,97.03 636.16,98.86 636.96,100.72 637.76,102.63 638.55,104.58 639.35,106.56 640.15,108.59 640.94,110.66 641.74,112.77 642.54,114.92 643.33,117.12 644.13,119.35 644.93,121.62 645.73,123.94 646.52,126.30 647.32,128.69 648.12,131.13 648.91,133.61 649.71,136.13 650.51,138.69 651.30,141.29 652.10,143.93 652.90,146.61 653.69,149.34 654.49,152.10 655.29,154.90 656.08,157.73 656.88,160.61 657.68,163.53 658.47,166.48 659.27,169.47 660.07,172.50 660.86,175.57 661.66,178.67 661.98,179.93 662.30,181.18 662.46,181.81 662.62,182.44 662.93,183.71 663.25,184.99 663.57,186.27 663.89,187.55 664.05,188.20 664.21,188.84 664.53,190.14 664.85,191.44 665.17,192.75 665.48,194.06 665.64,194.72 665.80,195.38 666.12,196.70 666.44,198.03 666.76,199.37 667.08,200.70 667.24,201.38 667.40,202.05 667.72,203.40 668.03,204.75 668.35,206.11 668.67,207.48 668.83,208.16 668.99,208.84 669.31,210.22 669.63,211.60 669.95,212.98 670.26,214.37 670.42,215.07 670.58,215.76 670.90,217.16 671.22,218.56 671.54,219.97 671.86,221.38 672.02,222.09 672.18,222.79 672.50,224.21 672.81,225.64 673.13,227.07 673.45,228.50 673.61,229.22 673.77,229.93 674.09,231.37 674.41,232.82 674.73,234.27 675.05,235.72 675.20,236.44 675.36,237.17 675.68,238.63 676.00,240.09 676.32,241.56 676.64,243.03 676.80,243.76 676.96,244.50 677.28,245.98 677.60,247.46 677.91,248.94 678.23,250.42 678.39,251.17 678.55,251.91 678.87,253.40 679.19,254.89 679.51,256.39 679.83,257.89 679.99,258.64 680.14,259.39 680.46,260.89 680.78,262.40 681.10,263.91 681.42,265.41 681.58,266.17 681.74,266.93 682.06,268.44 682.38,269.95 682.69,271.47 683.01,272.99 683.17,273.75 683.33,274.51 683.65,276.03 683.97,277.55 684.29,279.07 684.61,280.59 684.77,281.36 684.93,282.12 685.24,283.64 685.56,285.17 685.88,286.69 686.20,288.22 686.36,288.98 686.52,289.74 686.84,291.27 687.16,292.79 687.47,294.32 687.79,295.84 687.95,296.60 688.11,297.36 688.43,298.89 688.75,300.41 689.07,301.93 689.39,303.44 689.55,304.20 689.71,304.96 690.02,306.48 690.34,307.99 690.66,309.50 690.98,311.01 691.14,311.76 691.30,312.51 691.62,314.02 691.94,315.52 692.26,317.01 692.57,318.51 692.73,319.25 692.89,320.00 693.21,321.48 693.53,322.96 693.53,322.96 693.85,324.44 694.17,325.91 694.33,326.65 694.49,327.38 694.80,328.84 695.12,330.30 695.44,331.75 695.76,333.20 695.92,333.92 696.08,334.64 696.40,336.07 696.72,337.50 696.72,337.50 697.04,338.92 697.35,340.33 697.51,341.04 697.67,341.74 697.99,343.13 698.31,344.52 698.63,345.90 698.95,347.27 699.11,347.96 699.27,348.64 699.59,349.99 699.90,351.33 700.22,352.66 700.54,353.98 700.70,354.64 700.86,355.29 701.18,356.59 701.50,357.88 701.82,359.15 702.13,360.42 702.29,361.04 702.45,361.66 702.77,362.90 703.09,364.12 703.41,365.33 703.73,366.52 703.89,367.11 704.05,367.69 704.37,368.85 704.68,370.00 705.00,371.12 705.32,372.23 705.48,372.78 705.64,373.32 705.96,374.40 706.28,375.45 706.60,376.49 706.92,377.50 707.07,378.00 707.23,378.50 707.55,379.47 707.87,380.42 708.19,381.35 708.51,382.26 708.67,382.70 708.83,383.14 709.15,384.00 709.46,384.83 709.78,385.64 710.10,386.43 710.26,386.81 710.42,387.19 710.74,387.92 711.06,388.63 711.38,389.31 711.70,389.96 711.86,390.27 712.01,390.58 712.33,391.18 712.65,391.74 712.97,392.28 713.29,392.79 713.45,393.03 713.61,393.27 713.93,393.71 714.25,394.13 714.56,394.53 714.88,394.89 715.04,395.06 715.20,395.22 715.52,395.52 715.84,395.80 716.16,396.05 716.48,396.27 716.64,396.38 716.80,396.47 717.11,396.65 717.43,396.80 717.75,396.92 718.07,397.03 718.23,397.08 718.39,397.12 718.71,397.20 719.03,397.25 719.34,397.30 719.66,397.33 719.82,397.35 719.98,397.36 720.30,397.37 720.62,397.39 720.94,397.39 721.26,397.40 721.42,397.40 721.58,397.40 721.89,397.40 722.21,397.40 722.53,397.40 722.85,397.40 723.01,397.40 723.17,397.40 723.49,397.40 723.81,397.40 724.13,397.40 724.44,397.40 724.60,397.40 724.76,397.40 725.08,397.40 725.40,397.40" fill="none" stroke="#ff8000" stroke-width="3.5" stroke-linecap="square" stroke-linejoin="round" stroke-dasharray="2.07 8.31 8.31 8.31"/>
<path d="M88.00,397.40 88.32,397.40 88.64,397.40 88.80,397.40 88.96,397.40 89.27,397.40 89.59,397.40 89.91,397.40 90.23,397.40 90.39,397.40 90.55,397.40 90.87,397.40 91.19,397.40 91.51,397.40 91.82,397.40 91.98,397.40 92.14,397.40 92.46,397.40 92.78,397.40 93.10,397.40 93.42,397.40 93.58,397.40 93.74,397.40 94.06,397.40 94.37,397.40 94.69,397.40 95.01,397.40 95.17,397.40 95.33,397.40 95.65,397.40 95.97,397.40 96.29,397.40 96.60,397.40 96.76,397.40 96.92,397.40 97.24,397.40 97.56,397.40 97.88,397.40 98.20,397.40 98.36,397.40 98.52,397.40 98.84,397.40 99.15,397.40 99.47,397.40 99.79,397.40 99.95,397.40 100.11,397.40 100.43,397.40 100.75,397.40 101.07,397.40 101.39,397.40 101.54,397.40 101.70,397.40 102.02,397.40 102.34,397.40 102.66,397.40 102.98,397.40 103.14,397.40 103.30,397.40 103.62,397.40 103.94,397.40 104.25,397.40 104.57,397.40 104.73,397.40 104.89,397.40 105.21,397.40 105.53,397.40 105.85,397.40 106.17,397.40 106.33,397.40 106.48,397.40 106.80,397.40 107.12,397.40 107.44,397.40 107.76,397.40 107.92,397.40 108.08,397.40 108.40,397.40 108.72,397.40 109.03,397.40 109.35,397.40 109.51,397.40 109.67,397.40 109.99,397.40 110.31,397.40 110.63,397.40 110.95,397.40 111.11,397.40 111.27,397.40 111.58,397.40 111.90,397.40 112.22,397.40 112.54,397.40 112.70,397.40 112.86,397.40 113.18,397.40 113.50,397.40 113.81,397.40 114.13,397.40 114.29,397.40 114.45,397.40 114.77,397.40 115.09,397.40 115.41,397.40 115.73,397.40 115.89,397.40 116.05,397.40 116.36,397.40 116.68,397.40 117.00,397.40 117.32,397.40 117.48,397.40 117.64,397.40 117.96,397.40 118.28,397.40 118.60,397.40 118.91,397.40 119.07,397.40 119.23,397.40 119.55,397.40 119.87,397.40 120.19,397.40 120.51,397.40 120.67,397.40 120.83,397.40 121.14,397.40 121.46,397.40 121.78,397.40 122.10,397.40 122.26,397.40 122.42,397.40 122.74,397.40 123.06,397.40 123.38,397.40 123.69,397.40 123.85,397.40 124.01,397.40 124.33,397.40 124.65,397.40 124.97,397.40 125.29,397.40 125.45,397.40 125.61,397.40 125.93,397.40 126.24,397.40 126.56,397.40 126.88,397.40 127.04,397.40 127.20,397.40 127.52,397.40 127.84,397.40 128.16,397.40 128.47,397.40 128.63,397.40 128.79,397.40 129.11,397.40 129.43,397.40 129.75,397.40 130.07,397.40 130.23,397.40 130.39,397.40 130.71,397.40 131.02,397.40 131.34,397.40 131.66,397.40 131.82,397.40 131.98,397.40 132.30,397.40 132.62,397.40 132.94,397.40 133.26,397.40 133.41,397.40 133.57,397.40 133.89,397.40 134.21,397.40 134.53,397.40 134.85,397.40 135.01,397.40 135.17,397.40 135.49,397.40 135.81,397.40 136.12,397.40 136.44,397.40 136.60,397.40 136.76,397.40 137.08,397.40 137.40,397.40 137.72,397.40 138.04,397.40 138.20,397.40 138.35,397.40 138.67,397.40 138.99,397.40 139.31,397.40 139.63,397.40 139.79,397.40 139.95,397.40 140.27,397.40 140.59,397.40 140.90,397.40 141.22,397.40 141.38,397.40 141.54,397.40 141.86,397.40 142.18,397.40 142.50,397.40 142.82,397.40 142.98,397.40 143.14,397.40 143.45,397.40 143.77,397.40 144.09,397.40 144.41,397.40 144.57,397.40 144.73,397.40 145.05,397.40 145.37,397.40 145.68,397.40 146.00,397.40 146.16,397.40 146.32,397.40 146.64,397.40 146.96,397.40 147.28,397.40 147.60,397.40 147.76,397.40 147.92,397.40 148.23,397.40 148.55,397.40 148.87,397.40 149.19,397.40 149.35,397.40 149.51,397.40 149.83,397.40 150.15,397.40 150.47,397.40 150.78,397.40 150.94,397.40 151.10,397.40 151.42,397.40 151.74,397.40 152.06,397.40 152.38,397.40 152.54,397.40 152.70,397.40 153.01,397.40 153.33,397.40 153.65,397.40 153.97,397.40 154.13,397.40 154.29,397.40 154.61,397.40 154.93,397.40 155.25,397.40 155.56,397.40 155.72,397.40 155.88,397.40 156.20,397.40 156.52,397.40 156.84,397.40 157.16,397.40 157.32,397.40 157.48,397.40 157.80,397.40 158.11,397.40 158.43,397.40 158.75,397.40 158.91,397.40 159.07,397.40 159.39,397.40 159.71,397.40 160.03,397.40 160.34,397.40 160.50,397.40 160.66,397.40 160.98,397.40 161.30,397.40 161.62,397.40 161.94,397.40 162.10,397.40 162.26,397.40 162.58,397.40 162.89,397.40 163.21,397.40 163.53,397.40 163.69,397.40 163.85,397.40 164.17,397.40 164.49,397.40 165.28,397.40 166.08,397.40 166.88,397.40 167.68,397.40 168.47,397.40 169.27,397.40 170.07,397.40 170.86,397.40 171.66,397.40 172.46,397.40 173.25,397.40 174.05,397.40 174.85,397.40 175.64,397.40 176.44,397.40 177.24,397.40 178.03,397.40 178.83,397.40 179.63,397.40 180.42,397.40 181.22,397.40 182.02,397.40 182.81,397.40 183.61,397.40 184.41,397.40 185.20,397.40 186.00,397.40 186.80,397.40 187.59,397.40 188.39,397.40 189.19,397.39 189.98,397.39 190.78,397.39 191.58,397.39 192.37,397.39 193.17,397.39 193.97,397.39 194.76,397.39 195.56,397.39 196.36,397.39 197.15,397.39 197.95,397.38 198.75,397.38 199.55,397.38 200.34,397.38 201.14,397.38 201.94,397.37 202.73,397.37 203.53,397.37 204.33,397.37 205.12,397.36 205.92,397.36 206.72,397.36 207.51,397.35 208.31,397.35 209.11,397.35 209.90,397.34 210.70,397.34 211.50,397.33 212.29,397.33 213.09,397.32 213.89,397.32 214.68,397.31 215.48,397.30 216.28,397.30 217.07,397.29 217.87,397.28 218.67,397.28 219.46,397.27 220.26,397.26 221.06,397.25 221.85,397.24 222.65,397.23 223.45,397.22 224.24,397.21 225.04,397.20 225.84,397.19 226.63,397.17 227.43,397.16 228.23,397.15 229.02,397.13 229.82,397.12 230.62,397.10 231.41,397.09 232.21,397.07 233.01,397.05 233.81,397.03 234.60,397.02 235.40,397.00 236.20,396.98 236.99,396.95 237.79,396.93 238.59,396.91 239.38,396.89 240.18,396.86 240.98,396.84 241.77,396.81 242.57,396.78 243.37,396.76 244.16,396.73 244.96,396.70 245.76,396.67 246.55,396.64 247.35,396.60 248.15,396.57 248.94,396.54 249.74,396.50 250.54,396.46 251.33,396.42 252.13,396.39 252.93,396.35 253.72,396.30 254.52,396.26 255.32,396.22 256.11,396.17 256.91,396.13 257.71,396.08 258.50,396.03 259.30,395.98 260.10,395.93 260.89,395.88 261.69,395.82 262.49,395.77 263.28,395.71 264.08,395.65 264.88,395.59 265.68,395.53 266.47,395.47 267.27,395.40 268.07,395.34 268.86,395.27 269.66,395.20 270.46,395.13 271.25,395.06 272.05,394.99 272.85,394.91 273.64,394.84 274.44,394.76 275.24,394.68 276.03,394.60 276.83,394.51 277.63,394.43 278.42,394.34 279.22,394.25 280.02,394.16 280.81,394.07 281.61,393.97 282.41,393.88 283.20,393.78 284.00,393.68 284.80,393.58 285.59,393.48 286.39,393.37 287.19,393.26 287.98,393.15 288.78,393.04 289.58,392.93 290.37,392.81 291.17,392.69 291.97,392.57 292.76,392.45 293.56,392.33 294.36,392.20 295.15,392.07 295.95,391.94 296.75,391.81 297.55,391.67 298.34,391.54 299.14,391.40 299.94,391.26 300.73,391.11 301.53,390.97 302.33,390.82 303.12,390.67 303.92,390.51 304.72,390.36 305.51,390.20 306.31,390.04 307.11,389.88 307.90,389.71 308.70,389.54 309.50,389.37 310.29,389.20 311.09,389.02 311.89,388.84 312.68,388.66 313.48,388.48 314.28,388.29 315.07,388.11 315.87,387.91 316.67,387.72 317.46,387.52 318.26,387.33 319.06,387.12 319.85,386.92 320.65,386.71 321.45,386.50 322.24,386.29 323.04,386.07 323.84,385.85 324.63,385.63 325.43,385.41 326.23,385.18 327.02,384.95 327.82,384.72 328.62,384.48 329.42,384.24 330.21,384.00 331.01,383.75 331.81,383.51 332.60,383.26 333.40,383.00 334.20,382.74 334.99,382.48 335.79,382.22 336.59,381.95 337.38,381.68 338.18,381.41 338.98,381.13 339.77,380.86 340.57,380.57 341.37,380.29 342.16,380.00 342.96,379.71 343.76,379.41 344.55,379.11 345.35,378.81 346.15,378.50 346.94,378.19 347.74,377.88 348.54,377.57 349.33,377.25 350.13,376.92 350.93,376.60 351.72,376.27 352.52,375.94 353.32,375.60 354.11,375.26 354.91,374.91 355.71,374.57 356.50,374.22 357.30,373.86 358.10,373.50 358.89,373.14 359.69,372.78 360.49,372.41 361.29,372.03 362.08,371.66 362.88,371.28 363.68,370.89 364.47,370.50 365.27,370.11 366.07,369.71 366.86,369.31 367.66,368.91 368.46,368.50 369.25,368.09 370.05,367.68 370.85,367.26 371.64,366.83 372.44,366.41 373.24,365.98 374.03,365.54 374.83,365.10 375.63,364.66 376.42,364.21 377.22,363.76 378.02,363.30 378.81,362.84 379.61,362.38 380.41,361.91 381.20,361.44 382.00,360.96 382.80,360.48 383.59,359.99 384.39,359.50 385.19,359.01 385.98,358.51 386.78,358.01 387.58,357.50 388.37,356.99 389.17,356.47 389.97,355.95 390.76,355.43 391.56,354.90 392.36,354.37 393.16,353.83 393.95,353.28 394.75,352.74 395.55,352.18 396.34,351.63 397.14,351.07 397.94,350.50 398.73,349.93 399.53,349.35 400.33,348.77 401.12,348.19 401.92,347.60 402.72,347.01 403.51,346.41 404.31,345.80 405.11,345.19 405.90,344.58 406.70,343.96 407.50,343.34 408.29,342.71 409.09,342.08 409.89,341.44 410.68,340.80 411.48,340.15 412.28,339.50 413.07,338.84 413.87,338.18 414.67,337.51 415.46,336.83 416.26,336.16 417.06,335.47 417.85,334.78 418.65,334.09 419.45,333.39 420.24,332.69 421.04,331.98 421.84,331.26 422.63,330.54 423.43,329.82 424.23,329.09 425.03,328.35 425.82,327.61 426.62,326.87 427.42,326.11 428.21,325.36 429.01,324.59 429.81,323.83 430.60,323.05 431.40,322.27 432.20,321.49 432.99,320.70 433.79,319.91 434.59,319.10 435.38,318.30 436.18,317.49 436.98,316.67 437.77,315.85 438.57,315.02 439.37,314.18 440.16,313.34 440.96,312.50 441.76,311.65 442.55,310.79 443.35,309.93 444.15,309.06 444.94,308.18 445.74,307.30 446.54,306.42 447.33,305.53 448.13,304.63 448.93,303.72 449.72,302.82 450.52,301.90 451.32,300.98 452.11,300.05 452.91,299.12 453.71,298.18 454.51,297.24 455.30,296.29 456.10,295.33 456.90,294.37 457.69,293.40 458.49,292.43 459.29,291.45 460.08,290.46 460.88,289.47 461.68,288.47 462.47,287.47 463.27,286.46 464.07,285.44 464.86,284.42 465.66,283.39 466.46,282.36 467.25,281.32 468.05,280.27 468.85,279.22 469.64,278.16 470.44,277.10 471.24,276.03 472.03,274.95 472.83,273.87 473.63,272.78 474.42,271.68 475.22,270.58 476.02,269.48 476.81,268.36 477.61,267.24 478.41,266.12 479.20,264.99 480.00,263.85 480.80,262.71 481.59,261.56 482.39,260.40 483.19,259.24 483.98,258.07 484.78,256.90 485.58,255.72 486.38,254.53 487.17,253.34 487.97,252.15 488.77,250.94 489.56,249.73 490.36,248.52 491.16,247.30 491.95,246.07 492.75,244.83 493.55,243.60 494.34,242.35 495.14,241.10 495.94,239.84 496.73,238.58 497.53,237.31 498.33,236.04 499.12,234.76 499.92,233.47 500.72,232.18 501.51,230.88 502.31,229.58 503.11,228.27 503.90,226.96 504.70,225.64 505.50,224.32 506.29,222.99 507.09,221.65 507.89,220.31 508.68,218.97 509.48,217.61 510.28,216.26 511.07,214.90 511.87,213.53 512.67,212.16 513.46,210.78 514.26,209.40 515.06,208.01 515.85,206.62 516.65,205.22 517.45,203.82 518.25,202.42 519.04,201.01 519.84,199.59 520.64,198.17 521.43,196.75 522.23,195.32 523.03,193.89 523.82,192.45 524.62,191.01 525.42,189.57 526.21,188.12 527.01,186.67 527.81,185.21 528.60,183.75 529.40,182.29 530.20,180.82 530.99,179.35 531.79,177.88 532.59,176.41 533.38,174.93 534.18,173.45 534.98,171.96 535.77,170.47 536.57,168.98 537.37,167.49 538.16,166.00 538.96,164.50 539.76,163.00 540.55,161.50 541.35,160.00 542.15,158.50 542.94,156.99 543.74,155.49 544.54,153.98 545.33,152.47 546.13,150.97 546.93,149.46 547.72,147.95 548.52,146.44 549.32,144.93 550.12,143.42 550.91,141.91 551.71,140.40 552.51,138.89 553.30,137.39 554.10,135.88 554.90,134.38 555.69,132.87 556.49,131.37 557.29,129.87 558.08,128.38 558.88,126.88 559.68,125.39 560.47,123.90 561.27,122.42 562.07,120.94 562.86,119.46 563.66,117.99 564.46,116.52 565.25,115.05 566.05,113.60 566.85,112.14 567.64,110.69 568.44,109.25 569.24,107.81 570.03,106.39 570.83,104.96 571.63,103.55 572.42,102.14 573.22,100.74 574.02,99.35 574.81,97.96 575.61,96.59 576.41,95.22 577.20,93.87 578.00,92.52 578.80,91.19 579.59,89.87 580.39,88.55 581.19,87.25 581.99,85.96 582.78,84.69 583.58,83.43 584.38,82.18 585.17,80.94 585.97,79.72 586.77,78.52 587.56,77.33 588.36,76.15 589.16,75.00 589.95,73.85 590.75,72.73 591.55,71.63 592.34,70.54 593.14,69.47 593.94,68.42 594.73,67.40 595.53,66.39 596.33,65.40 597.12,64.44 597.92,63.50 598.72,62.58 599.51,61.69 600.31,60.82 601.11,59.98 601.90,59.16 602.70,58.36 603.50,57.60 604.29,56.86 605.09,56.15 605.89,55.47 606.68,54.82 607.48,54.20 608.28,53.61 609.07,53.06 609.87,52.53 610.67,52.04 611.46,51.59 612.26,51.16 613.06,50.78 613.86,50.43 614.65,50.12 615.45,49.84 616.25,49.61 617.04,49.41 617.84,49.26 618.64,49.14 619.43,49.07 620.23,49.04 621.03,49.05 621.82,49.11 622.62,49.22 623.42,49.37 624.21,49.57 625.01,49.81 625.81,50.11 626.60,50.45 627.40,50.85 628.20,51.29 628.99,51.79 629.79,52.34 630.59,52.95 631.38,53.61 632.18,54.33 632.98,55.10 633.77,55.93 634.57,56.82 635.37,57.77 636.16,58.78 636.96,59.85 637.76,60.98 638.55,62.17 639.35,63.43 640.15,64.75 640.94,66.14 641.74,67.59 642.54,69.11 643.33,70.70 644.13,72.35 644.93,74.07 645.73,75.87 646.52,77.73 647.32,79.66 648.12,81.66 648.91,83.74 649.71,85.89 650.51,88.11 651.30,90.41 652.10,92.77 652.90,95.22 653.69,97.74 654.49,100.33 655.29,103.00 656.08,105.74 656.88,108.56 657.68,111.45 658.47,114.43 659.27,117.47 660.07,120.60 660.86,123.80 661.66,127.07 661.98,128.40 662.30,129.74 662.46,130.42 662.62,131.10 662.93,132.46 663.25,133.84 663.57,135.23 663.89,136.64 664.05,137.34 664.21,138.05 664.53,139.48 664.85,140.92 665.17,142.37 665.48,143.83 665.64,144.56 665.80,145.30 666.12,146.79 666.44,148.28 666.76,149.79 667.08,151.31 667.24,152.07 667.40,152.84 667.72,154.38 668.03,155.94 668.35,157.50 668.67,159.08 668.83,159.87 668.99,160.66 669.31,162.26 669.63,163.87 669.95,165.49 670.26,167.12 670.42,167.94 670.58,168.76 670.90,170.41 671.22,172.07 671.54,173.75 671.86,175.43 672.02,176.27 672.18,177.12 672.50,178.83 672.81,180.54 673.13,182.26 673.45,183.99 673.61,184.86 673.77,185.74 674.09,187.49 674.41,189.25 674.73,191.02 675.05,192.80 675.20,193.69 675.36,194.59 675.68,196.39 676.00,198.19 676.32,200.01 676.64,201.83 676.80,202.74 676.96,203.66 677.28,205.50 677.60,207.35 677.91,209.20 678.23,211.07 678.39,212.00 678.55,212.94 678.87,214.81 679.19,216.70 679.51,218.59 679.83,220.49 679.99,221.44 680.14,222.39 680.46,224.30 680.78,226.22 681.10,228.14 681.42,230.07 681.58,231.03 681.74,232.00 682.06,233.94 682.38,235.88 682.69,237.83 683.01,239.78 683.17,240.76 683.33,241.74 683.65,243.70 683.97,245.66 684.29,247.63 684.61,249.60 684.77,250.58 684.93,251.57 685.24,253.54 685.56,255.52 685.88,257.50 686.20,259.48 686.36,260.47 686.52,261.46 686.84,263.45 687.16,265.43 687.47,267.42 687.79,269.40 687.95,270.39 688.11,271.39 688.43,273.37 688.75,275.35 689.07,277.34 689.39,279.32 689.55,280.30 689.71,281.29 690.02,283.27 690.34,285.24 690.66,287.21 690.98,289.18 691.14,290.16 691.30,291.14 691.62,293.10 691.94,295.05 692.26,297.00 692.57,298.95 692.73,299.92 692.89,300.88 693.21,302.81 693.53,304.74 693.53,304.74 693.85,306.66 694.17,308.57 694.33,309.52 694.49,310.47 694.80,312.36 695.12,314.24 695.44,316.12 695.76,317.98 695.92,318.91 696.08,319.84 696.40,321.68 696.72,323.52 696.72,323.52 697.04,325.34 697.35,327.15 697.51,328.05 697.67,328.94 697.99,330.72 698.31,332.49 698.63,334.25 698.95,335.99 699.11,336.85 699.27,337.71 699.59,339.42 699.90,341.12 700.22,342.79 700.54,344.45 700.70,345.28 700.86,346.10 701.18,347.72 701.50,349.32 701.82,350.91 702.13,352.48 702.29,353.25 702.45,354.02 702.77,355.55 703.09,357.05 703.41,358.53 703.73,359.99 703.89,360.71 704.05,361.43 704.37,362.84 704.68,364.23 705.00,365.60 705.32,366.94 705.48,367.60 705.64,368.25 705.96,369.54 706.28,370.80 706.60,372.04 706.92,373.25 707.07,373.84 707.23,374.43 707.55,375.58 707.87,376.71 708.19,377.81 708.51,378.87 708.67,379.40 708.83,379.91 709.15,380.92 709.46,381.90 709.78,382.84 710.10,383.76 710.26,384.21 710.42,384.65 710.74,385.50 711.06,386.32 711.38,387.12 711.70,387.88 711.86,388.24 712.01,388.60 712.33,389.30 712.65,389.96 712.97,390.60 713.29,391.20 713.45,391.49 713.61,391.77 713.93,392.30 714.25,392.81 714.56,393.28 714.88,393.73 715.04,393.94 715.20,394.14 715.52,394.53 715.84,394.88 716.16,395.21 716.48,395.51 716.64,395.65 716.80,395.78 717.11,396.02 717.43,396.24 717.75,396.44 718.07,396.61 718.23,396.69 718.39,396.76 718.71,396.89 719.03,397.00 719.34,397.10 719.66,397.17 719.82,397.20 719.98,397.23 720.30,397.28 720.62,397.32 720.94,397.35 721.26,397.37 721.42,397.38 721.58,397.38 721.89,397.39 722.21,397.40 722.53,397.40 722.85,397.40 723.01,397.40 723.17,397.40 723.49,397.40 723.81,397.40 724.13,397.40 724.44,397.40 724.60,397.40 724.76,397.40 725.08,397.40 725.40,397.40" fill="none" stroke="#0000ff" stroke-width="3.5" stroke-linecap="square" stroke-linejoin="round" stroke-dasharray="2.07 8.31"/>
<path d="M88.00 7.45V13.95M119.87 7.45V11.35M151.74 7.45V11.35M183.61 7.45V11.35M215.48 7.45V13.95M247.35 7.45V11.35M279.22 7.45V11.35M311.09 7.45V11.35M342.96 7.45V13.95M374.83 7.45V11.35M406.70 7.45V11.35M438.57 7.45V11.35M470.44 7.45V13.95M502.31 7.45V11.35M534.18 7.45V11.35M566.05 7.45V11.35M597.92 7.45V13.95M629.79 7.45V11.35M661.66 7.45V11.35M693.53 7.45V11.35M725.40 7.45V13.95M738.90 397.40H732.00M738.90 381.56H735.00M738.90 365.72H735.00M738.90 349.88H735.00M738.90 334.04H735.00M738.90 318.20H732.00M738.90 302.36H735.00M738.90 286.52H735.00M738.90 270.68H735.00M738.90 254.84H735.00M738.90 239.00H732.00M738.90 223.16H735.00M738.90 207.33H735.00M738.90 191.49H735.00M738.90 175.65H735.00M738.90 159.81H732.00M738.90 143.97H735.00M738.90 128.13H735.00M738.90 112.29H735.00M738.90 96.45H735.00M738.90 80.61H732.00M738.90 64.77H735.00M738.90 48.93H735.00M738.90 33.09H735.00M738.90 17.25H735.00" stroke="#c4c4c4" stroke-width="1" fill="none"/>
<path d="M88.00 417.95V413.35M119.87 417.95V415.15M151.74 417.95V415.15M183.61 417.95V415.15M215.48 417.95V413.35M247.35 417.95V415.15M279.22 417.95V415.15M311.09 417.95V415.15M342.96 417.95V413.35M374.83 417.95V415.15M406.70 417.95V415.15M438.57 417.95V415.15M470.44 417.95V413.35M502.31 417.95V415.15M534.18 417.95V415.15M566.05 417.95V415.15M597.92 417.95V413.35M629.79 417.95V415.15M661.66 417.95V415.15M693.53 417.95V415.15M725.40 417.95V413.35M74.70 397.40H79.30M74.70 381.56H77.50M74.70 365.72H77.50M74.70 349.88H77.50M74.70 334.04H79.30M74.70 318.20H77.50M74.70 302.36H77.50M74.70 286.52H77.50M74.70 270.68H79.30M74.70 254.84H77.50M74.70 239.00H77.50M74.70 223.16H77.50M74.70 207.33H79.30M74.70 191.49H77.50M74.70 175.65H77.50M74.70 159.81H77.50M74.70 143.97H79.30M74.70 128.13H77.50M74.70 112.29H77.50M74.70 96.45H77.50M74.70 80.61H79.30M74.70 64.77H77.50M74.70 48.93H77.50M74.70 33.09H77.50M74.70 17.25H79.30" stroke="#646464" stroke-width="1" fill="none"/>
<rect x="74.7" y="7.45" width="664.20" height="410.50" fill="none" stroke="#646464" stroke-width="1.3"/>
<text transform="translate(70.62,448.10) scale(1,1.05)" font-size="25.0">0.0</text>
<text transform="translate(198.10,448.10) scale(1,1.05)" font-size="25.0">0.2</text>
<text transform="translate(325.58,448.10) scale(1,1.05)" font-size="25.0">0.4</text>
<text transform="translate(453.06,448.10) scale(1,1.05)" font-size="25.0">0.6</text>
<text transform="translate(580.54,448.10) scale(1,1.05)" font-size="25.0">0.8</text>
<path transform="translate(708.02,448.10) scale(0.012207,-0.012269)" d="M806 0H525V1059Q371 915 162 846V1101Q272 1137 401 1237.5Q530 1338 578 1472H806Z" fill="#000"/>
<text transform="translate(721.93,448.10) scale(1,1.05)" font-size="25.0">.0</text>
<text transform="translate(55.00,406.90) scale(1,1.05)" font-size="25.0">0</text>
<text transform="translate(55.00,343.54) scale(1,1.05)" font-size="25.0">2</text>
<text transform="translate(55.00,280.18) scale(1,1.05)" font-size="25.0">4</text>
<text transform="translate(55.00,216.83) scale(1,1.05)" font-size="25.0">6</text>
<text transform="translate(55.00,153.47) scale(1,1.05)" font-size="25.0">8</text>
<path transform="translate(41.09,90.11) scale(0.012207,-0.012269)" d="M806 0H525V1059Q371 915 162 846V1101Q272 1137 401 1237.5Q530 1338 578 1472H806Z" fill="#000"/>
<text transform="translate(55.00,90.11) scale(1,1.05)" font-size="25.0">0</text>
<path transform="translate(41.09,26.75) scale(0.012207,-0.012269)" d="M806 0H525V1059Q371 915 162 846V1101Q272 1137 401 1237.5Q530 1338 578 1472H806Z" fill="#000"/>
<text transform="translate(55.00,26.75) scale(1,1.05)" font-size="25.0">2</text>
<text x="406.3" y="487" font-size="24.5" text-anchor="middle">x</text>
<g transform="translate(24.1,331.0) rotate(-90)">
<text transform="translate(-0.10,0.00) scale(0.96,1.05)" font-size="24.5" font-style="italic">F</text>
<text x="15.00" y="6.30" font-size="19.5">2</text>
<text x="17.00" y="-11.10" font-size="18.2" font-style="italic">k</text>
<text x="28.50" y="0.00" font-size="24.5">[</text>
<text x="36.80" y="0.00" font-size="24.5">x</text>
<text x="50.55" y="0.00" font-size="24.5">,</text>
<text x="64.40" y="0.00" font-size="24.5" font-style="italic">k</text>
<path d="M79.50 3.50H93.00M86.25 3.50V-9.50" stroke="#000" stroke-width="2.1" fill="none"/>
<text x="94.30" y="4.70" font-size="19.5">,</text>
<text transform="translate(103.80,0.00) scale(1.12,1.05)" font-size="24.5">Δ</text>
<path d="M124.40 3.50H138.00M131.20 3.50V-9.50" stroke="#000" stroke-width="2.1" fill="none"/>
<text x="140.40" y="0.00" font-size="24.5">,</text>
<text x="154.30" y="0.00" font-size="24.5" font-style="italic">k</text>
<path d="M169.00 3.50H182.40M175.70 3.50V-9.50" stroke="#000" stroke-width="2.1" fill="none"/>
<text x="185.30" y="0.00" font-size="24.5">.</text>
<text transform="translate(192.00,0.00) scale(1.08,1.05)" font-size="24.5">Δ</text>
<path d="M211.80 3.50H225.80M218.80 3.50V-9.50" stroke="#000" stroke-width="2.1" fill="none"/>
<text x="228.60" y="0.00" font-size="24.5">]</text>
</g>
</svg>
</body></html>
